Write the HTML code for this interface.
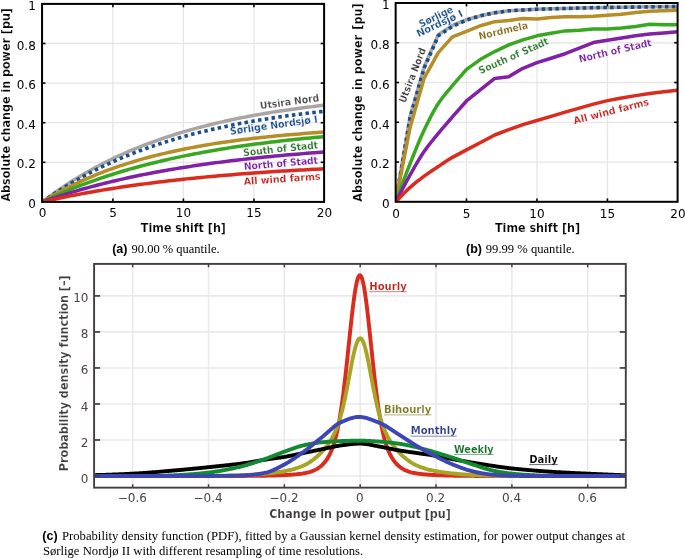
<!DOCTYPE html>
<html lang="en"><head><meta charset="utf-8"><title>Figure</title>
<style>
html,body{margin:0;padding:0;background:#fff;}
body{width:685px;height:558px;overflow:hidden;}
svg{display:block;}
text{white-space:pre;}
</style></head>
<body>
<svg width="685" height="558" viewBox="0 0 685 558">
<defs>
<clipPath id="ca"><rect x="42.05" y="3.9" width="282.05" height="198"/></clipPath>
<clipPath id="cb"><rect x="395.65" y="3.0" width="281.95" height="198.8"/></clipPath>
<clipPath id="cc"><rect x="94.1" y="263.9" width="531.7" height="223.75"/></clipPath>
</defs>
<rect width="685" height="558" fill="#fff"/>
<g><line x1="112.91" y1="3.9" x2="112.91" y2="201.9" stroke="#e7e5e6" stroke-width="1.3"/><line x1="183.42" y1="3.9" x2="183.42" y2="201.9" stroke="#e7e5e6" stroke-width="1.3"/><line x1="253.94" y1="3.9" x2="253.94" y2="201.9" stroke="#e7e5e6" stroke-width="1.3"/><line x1="42.05" y1="162.3" x2="324.1" y2="162.3" stroke="#e7e5e6" stroke-width="1.3"/><line x1="42.05" y1="122.7" x2="324.1" y2="122.7" stroke="#e7e5e6" stroke-width="1.3"/><line x1="42.05" y1="83.1" x2="324.1" y2="83.1" stroke="#e7e5e6" stroke-width="1.3"/><line x1="42.05" y1="43.5" x2="324.1" y2="43.5" stroke="#e7e5e6" stroke-width="1.3"/></g>
<path clip-path="url(#ca)" d="M42.05,201.9 L45.93,199.2 L49.45,196.57 L52.98,194 L56.5,191.49 L60.03,189.05 L63.55,186.66 L67.08,184.32 L70.6,182.04 L74.13,179.82 L77.66,177.65 L81.18,175.53 L84.71,173.47 L88.23,171.45 L91.76,169.48 L95.28,167.55 L98.81,165.68 L102.34,163.84 L105.86,162.05 L109.39,160.31 L112.91,158.6 L116.44,156.94 L119.96,155.31 L123.49,153.73 L127.02,152.18 L130.54,150.67 L134.07,149.19 L137.59,147.75 L141.12,146.35 L144.64,144.98 L148.17,143.64 L151.69,142.33 L155.22,141.05 L158.75,139.81 L162.27,138.59 L165.8,137.4 L169.32,136.25 L172.85,135.11 L176.37,134.01 L179.9,132.93 L183.42,131.88 L186.95,130.85 L190.48,129.85 L194,128.87 L197.53,127.92 L201.05,126.98 L204.58,126.07 L208.1,125.18 L211.63,124.32 L215.16,123.47 L218.68,122.64 L222.21,121.84 L225.73,121.05 L229.26,120.28 L232.78,119.53 L236.31,118.8 L239.84,118.08 L243.36,117.38 L246.89,116.7 L250.41,116.04 L253.94,115.39 L257.46,114.75 L260.99,114.14 L264.51,113.53 L268.04,112.94 L271.57,112.37 L275.09,111.8 L278.62,111.26 L282.14,110.72 L285.67,110.2 L289.19,109.69 L292.72,109.19 L296.25,108.7 L299.77,108.23 L303.3,107.77 L306.82,107.31 L310.35,106.87 L313.87,106.44 L317.4,106.02 L320.92,105.61 L324.1,105.21" fill="none" stroke="#a9a5a5" stroke-width="3.5" stroke-linejoin="round"/>
<path clip-path="url(#ca)" d="M42.05,201.9 L45.93,199.41 L49.45,196.98 L52.98,194.6 L56.5,192.28 L60.03,190.02 L63.55,187.8 L67.08,185.64 L70.6,183.53 L74.13,181.47 L77.66,179.46 L81.18,177.49 L84.71,175.57 L88.23,173.69 L91.76,171.86 L95.28,170.07 L98.81,168.32 L102.34,166.62 L105.86,164.95 L109.39,163.32 L112.91,161.73 L116.44,160.18 L119.96,158.66 L123.49,157.18 L127.02,155.73 L130.54,154.32 L134.07,152.93 L137.59,151.59 L141.12,150.27 L144.64,148.98 L148.17,147.73 L151.69,146.5 L155.22,145.3 L158.75,144.13 L162.27,142.99 L165.8,141.87 L169.32,140.78 L172.85,139.71 L176.37,138.67 L179.9,137.66 L183.42,136.66 L186.95,135.7 L190.48,134.75 L194,133.82 L197.53,132.92 L201.05,132.04 L204.58,131.18 L208.1,130.34 L211.63,129.51 L215.16,128.71 L218.68,127.93 L222.21,127.16 L225.73,126.41 L229.26,125.68 L232.78,124.97 L236.31,124.27 L239.84,123.59 L243.36,122.93 L246.89,122.28 L250.41,121.65 L253.94,121.03 L257.46,120.42 L260.99,119.83 L264.51,119.25 L268.04,118.69 L271.57,118.14 L275.09,117.6 L278.62,117.08 L282.14,116.56 L285.67,116.06 L289.19,115.57 L292.72,115.1 L296.25,114.63 L299.77,114.17 L303.3,113.73 L306.82,113.29 L310.35,112.87 L313.87,112.46 L317.4,112.05 L320.92,111.65 L324.1,111.27" fill="none" stroke="#1b4f8c" stroke-width="3.6" stroke-linejoin="round" stroke-dasharray="3.5 3.35"/>
<path clip-path="url(#ca)" d="M42.05,201.9 L45.93,199.74 L49.45,197.64 L52.98,195.6 L56.5,193.62 L60.03,191.69 L63.55,189.81 L67.08,187.99 L70.6,186.21 L74.13,184.49 L77.66,182.81 L81.18,181.18 L84.71,179.59 L88.23,178.05 L91.76,176.55 L95.28,175.09 L98.81,173.67 L102.34,172.29 L105.86,170.95 L109.39,169.65 L112.91,168.38 L116.44,167.15 L119.96,165.95 L123.49,164.79 L127.02,163.65 L130.54,162.55 L134.07,161.48 L137.59,160.44 L141.12,159.43 L144.64,158.44 L148.17,157.48 L151.69,156.55 L155.22,155.65 L158.75,154.77 L162.27,153.91 L165.8,153.08 L169.32,152.27 L172.85,151.48 L176.37,150.72 L179.9,149.97 L183.42,149.25 L186.95,148.54 L190.48,147.86 L194,147.19 L197.53,146.55 L201.05,145.92 L204.58,145.31 L208.1,144.71 L211.63,144.13 L215.16,143.57 L218.68,143.03 L222.21,142.49 L225.73,141.98 L229.26,141.47 L232.78,140.99 L236.31,140.51 L239.84,140.05 L243.36,139.6 L246.89,139.16 L250.41,138.74 L253.94,138.32 L257.46,137.92 L260.99,137.53 L264.51,137.15 L268.04,136.78 L271.57,136.42 L275.09,136.07 L278.62,135.73 L282.14,135.4 L285.67,135.08 L289.19,134.77 L292.72,134.47 L296.25,134.17 L299.77,133.89 L303.3,133.61 L306.82,133.33 L310.35,133.07 L313.87,132.81 L317.4,132.57 L320.92,132.32 L324.1,132.09" fill="none" stroke="#b58e28" stroke-width="3.5" stroke-linejoin="round"/>
<path clip-path="url(#ca)" d="M42.05,201.9 L45.93,200.22 L49.45,198.57 L52.98,196.96 L56.5,195.38 L60.03,193.83 L63.55,192.32 L67.08,190.84 L70.6,189.39 L74.13,187.97 L77.66,186.58 L81.18,185.22 L84.71,183.89 L88.23,182.59 L91.76,181.31 L95.28,180.07 L98.81,178.84 L102.34,177.65 L105.86,176.48 L109.39,175.33 L112.91,174.21 L116.44,173.11 L119.96,172.03 L123.49,170.98 L127.02,169.95 L130.54,168.94 L134.07,167.95 L137.59,166.99 L141.12,166.04 L144.64,165.11 L148.17,164.21 L151.69,163.32 L155.22,162.45 L158.75,161.6 L162.27,160.77 L165.8,159.95 L169.32,159.15 L172.85,158.37 L176.37,157.61 L179.9,156.86 L183.42,156.13 L186.95,155.41 L190.48,154.71 L194,154.02 L197.53,153.35 L201.05,152.69 L204.58,152.04 L208.1,151.41 L211.63,150.79 L215.16,150.19 L218.68,149.6 L222.21,149.02 L225.73,148.45 L229.26,147.89 L232.78,147.35 L236.31,146.82 L239.84,146.3 L243.36,145.79 L246.89,145.29 L250.41,144.8 L253.94,144.32 L257.46,143.85 L260.99,143.39 L264.51,142.94 L268.04,142.5 L271.57,142.07 L275.09,141.65 L278.62,141.24 L282.14,140.84 L285.67,140.44 L289.19,140.06 L292.72,139.68 L296.25,139.31 L299.77,138.94 L303.3,138.59 L306.82,138.24 L310.35,137.9 L313.87,137.57 L317.4,137.24 L320.92,136.92 L324.1,136.61" fill="none" stroke="#38a820" stroke-width="3.5" stroke-linejoin="round"/>
<path clip-path="url(#ca)" d="M42.05,201.9 L45.93,200.66 L49.45,199.45 L52.98,198.26 L56.5,197.09 L60.03,195.95 L63.55,194.83 L67.08,193.73 L70.6,192.65 L74.13,191.59 L77.66,190.56 L81.18,189.55 L84.71,188.55 L88.23,187.58 L91.76,186.62 L95.28,185.69 L98.81,184.77 L102.34,183.87 L105.86,182.99 L109.39,182.13 L112.91,181.28 L116.44,180.45 L119.96,179.63 L123.49,178.84 L127.02,178.06 L130.54,177.29 L134.07,176.54 L137.59,175.8 L141.12,175.08 L144.64,174.37 L148.17,173.68 L151.69,173 L155.22,172.34 L158.75,171.68 L162.27,171.04 L165.8,170.42 L169.32,169.8 L172.85,169.2 L176.37,168.61 L179.9,168.03 L183.42,167.46 L186.95,166.91 L190.48,166.36 L194,165.83 L197.53,165.31 L201.05,164.79 L204.58,164.29 L208.1,163.8 L211.63,163.31 L215.16,162.84 L218.68,162.38 L222.21,161.92 L225.73,161.47 L229.26,161.04 L232.78,160.61 L236.31,160.19 L239.84,159.78 L243.36,159.37 L246.89,158.98 L250.41,158.59 L253.94,158.21 L257.46,157.84 L260.99,157.47 L264.51,157.11 L268.04,156.76 L271.57,156.42 L275.09,156.08 L278.62,155.75 L282.14,155.43 L285.67,155.11 L289.19,154.8 L292.72,154.5 L296.25,154.2 L299.77,153.9 L303.3,153.62 L306.82,153.34 L310.35,153.06 L313.87,152.79 L317.4,152.53 L320.92,152.27 L324.1,152.01" fill="none" stroke="#8021a6" stroke-width="3.5" stroke-linejoin="round"/>
<path clip-path="url(#ca)" d="M42.05,201.9 L45.93,201.1 L49.45,200.31 L52.98,199.53 L56.5,198.78 L60.03,198.03 L63.55,197.3 L67.08,196.58 L70.6,195.88 L74.13,195.19 L77.66,194.52 L81.18,193.85 L84.71,193.2 L88.23,192.56 L91.76,191.94 L95.28,191.32 L98.81,190.72 L102.34,190.13 L105.86,189.55 L109.39,188.98 L112.91,188.43 L116.44,187.88 L119.96,187.34 L123.49,186.82 L127.02,186.3 L130.54,185.79 L134.07,185.3 L137.59,184.81 L141.12,184.33 L144.64,183.86 L148.17,183.4 L151.69,182.95 L155.22,182.51 L158.75,182.07 L162.27,181.65 L165.8,181.23 L169.32,180.82 L172.85,180.42 L176.37,180.02 L179.9,179.64 L183.42,179.26 L186.95,178.88 L190.48,178.52 L194,178.16 L197.53,177.81 L201.05,177.46 L204.58,177.13 L208.1,176.79 L211.63,176.47 L215.16,176.15 L218.68,175.84 L222.21,175.53 L225.73,175.23 L229.26,174.93 L232.78,174.64 L236.31,174.36 L239.84,174.08 L243.36,173.81 L246.89,173.54 L250.41,173.28 L253.94,173.02 L257.46,172.76 L260.99,172.51 L264.51,172.27 L268.04,172.03 L271.57,171.8 L275.09,171.57 L278.62,171.34 L282.14,171.12 L285.67,170.9 L289.19,170.69 L292.72,170.48 L296.25,170.28 L299.77,170.07 L303.3,169.88 L306.82,169.68 L310.35,169.49 L313.87,169.31 L317.4,169.13 L320.92,168.95 L324.1,168.77" fill="none" stroke="#dc2a1c" stroke-width="3.5" stroke-linejoin="round"/>
<g><rect x="42.05" y="3.9" width="282.05" height="198" fill="none" stroke="#000" stroke-width="2.0"/><line x1="112.91" y1="201.9" x2="112.91" y2="198.5" stroke="#000" stroke-width="1.6"/><line x1="112.91" y1="3.9" x2="112.91" y2="7.3" stroke="#000" stroke-width="1.6"/><line x1="183.42" y1="201.9" x2="183.42" y2="198.5" stroke="#000" stroke-width="1.6"/><line x1="183.42" y1="3.9" x2="183.42" y2="7.3" stroke="#000" stroke-width="1.6"/><line x1="253.94" y1="201.9" x2="253.94" y2="198.5" stroke="#000" stroke-width="1.6"/><line x1="253.94" y1="3.9" x2="253.94" y2="7.3" stroke="#000" stroke-width="1.6"/><line x1="42.05" y1="162.3" x2="45.45" y2="162.3" stroke="#000" stroke-width="1.6"/><line x1="324.1" y1="162.3" x2="320.7" y2="162.3" stroke="#000" stroke-width="1.6"/><line x1="42.05" y1="122.7" x2="45.45" y2="122.7" stroke="#000" stroke-width="1.6"/><line x1="324.1" y1="122.7" x2="320.7" y2="122.7" stroke="#000" stroke-width="1.6"/><line x1="42.05" y1="83.1" x2="45.45" y2="83.1" stroke="#000" stroke-width="1.6"/><line x1="324.1" y1="83.1" x2="320.7" y2="83.1" stroke="#000" stroke-width="1.6"/><line x1="42.05" y1="43.5" x2="45.45" y2="43.5" stroke="#000" stroke-width="1.6"/><line x1="324.1" y1="43.5" x2="320.7" y2="43.5" stroke="#000" stroke-width="1.6"/></g>
<g><line x1="466.49" y1="3" x2="466.49" y2="201.8" stroke="#e7e5e6" stroke-width="1.3"/><line x1="536.98" y1="3" x2="536.98" y2="201.8" stroke="#e7e5e6" stroke-width="1.3"/><line x1="607.46" y1="3" x2="607.46" y2="201.8" stroke="#e7e5e6" stroke-width="1.3"/><line x1="395.65" y1="162.04" x2="677.6" y2="162.04" stroke="#e7e5e6" stroke-width="1.3"/><line x1="395.65" y1="122.28" x2="677.6" y2="122.28" stroke="#e7e5e6" stroke-width="1.3"/><line x1="395.65" y1="82.52" x2="677.6" y2="82.52" stroke="#e7e5e6" stroke-width="1.3"/><line x1="395.65" y1="42.76" x2="677.6" y2="42.76" stroke="#e7e5e6" stroke-width="1.3"/></g>
<path clip-path="url(#cb)" d="M395.65,201.8 L410.1,116.59 L424.19,66.78 L438.29,34.63 L452.39,25.44 L466.49,19.7 L480.59,15.76 L494.68,12.78 L508.78,10.81 L522.88,10.02 L536.98,9.22 L551.07,8.84 L565.17,8.45 L579.27,8.05 L593.37,7.65 L607.46,7.45 L621.56,7.25 L635.66,7.06 L649.75,6.86 L663.85,6.66 L677.6,6.66" fill="none" stroke="#a9a5a5" stroke-width="3.5" stroke-linejoin="round"/>
<path clip-path="url(#cb)" d="M395.65,201.8 L410.1,117.39 L424.19,67.97 L438.29,35.82 L452.39,26.44 L466.49,20.1 L480.59,15.76 L494.68,12.78 L508.78,10.81 L522.88,10.02 L536.98,9.22 L551.07,8.84 L565.17,8.45 L579.27,8.05 L593.37,7.65 L607.46,7.45 L621.56,7.25 L635.66,7.06 L649.75,6.86 L663.85,6.66 L677.6,6.66" fill="none" stroke="#1b4f8c" stroke-width="3.6" stroke-linejoin="round" stroke-dasharray="3.5 3.35"/>
<path clip-path="url(#cb)" d="M395.65,201.8 L410.1,127.47 L424.19,78.05 L438.29,52.62 L452.39,36.92 L466.49,31.37 L480.59,25.74 L494.68,21.69 L508.78,20.59 L522.88,18.53 L536.98,19.02 L551.07,17.53 L565.17,16.74 L579.27,16.74 L593.37,16.16 L607.46,15.17 L621.56,14.17 L635.66,12.4 L649.75,11.21 L663.85,10.81 L677.6,10.3" fill="none" stroke="#b58e28" stroke-width="3.5" stroke-linejoin="round"/>
<path clip-path="url(#cb)" d="M395.65,201.8 L397.76,196.78 L399.52,191.83 L401.29,186.95 L403.05,182.14 L404.81,177.4 L406.57,172.74 L408.34,168.16 L410.1,163.65 L411.86,159.19 L413.62,154.76 L415.38,150.38 L417.15,146.08 L418.91,141.87 L420.67,137.78 L422.43,133.83 L424.19,130.03 L425.96,126.35 L427.72,122.72 L429.48,119.18 L431.24,115.74 L433.01,112.43 L434.77,109.28 L436.53,106.3 L438.29,103.53 L440.05,100.96 L441.82,98.56 L443.58,96.28 L445.34,94.1 L447.1,91.99 L448.87,89.92 L450.63,87.84 L452.39,85.74 L466.49,69.42 L480.59,59.34 L494.68,51.55 L508.78,44.83 L522.88,39.88 L536.98,35.82 L551.07,33.16 L565.17,30.89 L579.27,30.2 L593.37,29.1 L607.46,29.1 L621.56,28.01 L635.66,26.44 L649.75,24.25 L663.85,24.65 L677.6,24.65" fill="none" stroke="#38a820" stroke-width="3.5" stroke-linejoin="round"/>
<path clip-path="url(#cb)" d="M395.65,201.8 L397.76,198.25 L399.52,194.75 L401.29,191.31 L403.05,187.91 L404.81,184.58 L406.57,181.29 L408.34,178.07 L410.1,174.9 L411.86,171.77 L413.62,168.65 L415.38,165.58 L417.15,162.55 L418.91,159.61 L420.67,156.75 L422.43,154 L424.19,151.38 L425.96,148.89 L427.72,146.51 L429.48,144.21 L431.24,141.99 L433.01,139.81 L434.77,137.66 L436.53,135.53 L438.29,133.39 L440.05,131.27 L441.82,129.17 L443.58,127.11 L445.34,125.06 L447.1,123.03 L448.87,121.01 L450.63,118.99 L452.39,116.97 L466.49,100.97 L480.59,89.7 L494.68,78.42 L508.78,76.66 L522.88,68.35 L536.98,62.7 L551.07,58.27 L565.17,53.71 L579.27,48.19 L593.37,42.54 L607.46,40.28 L621.56,38.09 L635.66,35.82 L649.75,34.05 L663.85,32.96 L677.6,31.77" fill="none" stroke="#8021a6" stroke-width="3.5" stroke-linejoin="round"/>
<path clip-path="url(#cb)" d="M395.65,201.8 L397.76,199.82 L399.52,197.89 L401.29,196.01 L403.05,194.17 L404.81,192.39 L406.57,190.66 L408.34,189 L410.1,187.39 L411.86,185.84 L413.62,184.34 L415.38,182.9 L417.15,181.49 L418.91,180.12 L420.67,178.78 L422.43,177.46 L424.19,176.15 L425.96,174.88 L427.72,173.63 L429.48,172.41 L431.24,171.21 L433.01,170.03 L434.77,168.85 L436.53,167.68 L438.29,166.51 L440.05,165.33 L441.82,164.15 L443.58,162.97 L445.34,161.79 L447.1,160.64 L448.87,159.51 L450.63,158.42 L452.39,157.37 L466.49,149.91 L480.59,142.46 L494.68,135 L508.78,129.54 L522.88,124.57 L536.98,120.49 L551.07,116.32 L565.17,112.14 L579.27,108.07 L593.37,104.09 L607.46,100.61 L621.56,98.03 L635.66,95.64 L649.75,93.55 L663.85,91.76 L677.6,90.17" fill="none" stroke="#dc2a1c" stroke-width="3.5" stroke-linejoin="round"/>
<g><rect x="395.65" y="3" width="281.95" height="198.8" fill="none" stroke="#000" stroke-width="2.0"/><line x1="466.49" y1="201.8" x2="466.49" y2="198.4" stroke="#000" stroke-width="1.6"/><line x1="466.49" y1="3" x2="466.49" y2="6.4" stroke="#000" stroke-width="1.6"/><line x1="536.98" y1="201.8" x2="536.98" y2="198.4" stroke="#000" stroke-width="1.6"/><line x1="536.98" y1="3" x2="536.98" y2="6.4" stroke="#000" stroke-width="1.6"/><line x1="607.46" y1="201.8" x2="607.46" y2="198.4" stroke="#000" stroke-width="1.6"/><line x1="607.46" y1="3" x2="607.46" y2="6.4" stroke="#000" stroke-width="1.6"/><line x1="395.65" y1="162.04" x2="399.05" y2="162.04" stroke="#000" stroke-width="1.6"/><line x1="677.6" y1="162.04" x2="674.2" y2="162.04" stroke="#000" stroke-width="1.6"/><line x1="395.65" y1="122.28" x2="399.05" y2="122.28" stroke="#000" stroke-width="1.6"/><line x1="677.6" y1="122.28" x2="674.2" y2="122.28" stroke="#000" stroke-width="1.6"/><line x1="395.65" y1="82.52" x2="399.05" y2="82.52" stroke="#000" stroke-width="1.6"/><line x1="677.6" y1="82.52" x2="674.2" y2="82.52" stroke="#000" stroke-width="1.6"/><line x1="395.65" y1="42.76" x2="399.05" y2="42.76" stroke="#000" stroke-width="1.6"/><line x1="677.6" y1="42.76" x2="674.2" y2="42.76" stroke="#000" stroke-width="1.6"/></g>
<g><line x1="132.68" y1="263.9" x2="132.68" y2="487.65" stroke="#ebe9ea" stroke-width="1.6"/><line x1="208.52" y1="263.9" x2="208.52" y2="487.65" stroke="#ebe9ea" stroke-width="1.6"/><line x1="284.36" y1="263.9" x2="284.36" y2="487.65" stroke="#ebe9ea" stroke-width="1.6"/><line x1="360.2" y1="263.9" x2="360.2" y2="487.65" stroke="#ebe9ea" stroke-width="1.6"/><line x1="436.04" y1="263.9" x2="436.04" y2="487.65" stroke="#ebe9ea" stroke-width="1.6"/><line x1="511.88" y1="263.9" x2="511.88" y2="487.65" stroke="#ebe9ea" stroke-width="1.6"/><line x1="587.72" y1="263.9" x2="587.72" y2="487.65" stroke="#ebe9ea" stroke-width="1.6"/><line x1="94.1" y1="476" x2="625.8" y2="476" stroke="#ebe9ea" stroke-width="1.6"/><line x1="94.1" y1="439.98" x2="625.8" y2="439.98" stroke="#ebe9ea" stroke-width="1.6"/><line x1="94.1" y1="403.96" x2="625.8" y2="403.96" stroke="#ebe9ea" stroke-width="1.6"/><line x1="94.1" y1="367.94" x2="625.8" y2="367.94" stroke="#ebe9ea" stroke-width="1.6"/><line x1="94.1" y1="331.92" x2="625.8" y2="331.92" stroke="#ebe9ea" stroke-width="1.6"/><line x1="94.1" y1="295.9" x2="625.8" y2="295.9" stroke="#ebe9ea" stroke-width="1.6"/></g>
<path clip-path="url(#cc)" d="M94.76,476 L95.71,476 L96.66,476 L97.6,476 L98.55,476 L99.5,476 L100.45,476 L101.4,476 L102.34,476 L103.29,476 L104.24,476 L105.19,476 L106.14,476 L107.08,476 L108.03,476 L108.98,476 L109.93,476 L110.88,476 L111.82,476 L112.77,476 L113.72,476 L114.67,476 L115.62,476 L116.56,476 L117.51,476 L118.46,476 L119.41,476 L120.36,476 L121.3,476 L122.25,476 L123.2,476 L124.15,476 L125.1,476 L126.04,476 L126.99,476 L127.94,476 L128.89,476 L129.84,476 L130.78,476 L131.73,476 L132.68,476 L133.63,476 L134.58,476 L135.52,476 L136.47,476 L137.42,476 L138.37,476 L139.32,476 L140.26,476 L141.21,476 L142.16,476 L143.11,476 L144.06,476 L145,476 L145.95,476 L146.9,476 L147.85,476 L148.8,476 L149.74,476 L150.69,476 L151.64,476 L152.59,476 L153.54,476 L154.48,476 L155.43,476 L156.38,476 L157.33,476 L158.28,476 L159.22,476 L160.17,476 L161.12,476 L162.07,476 L163.02,476 L163.96,476 L164.91,476 L165.86,476 L166.81,476 L167.76,476 L168.7,476 L169.65,476 L170.6,476 L171.55,476 L172.5,476 L173.44,476 L174.39,476 L175.34,476 L176.29,476 L177.24,476 L178.18,476 L179.13,476 L180.08,476 L181.03,476 L181.98,476 L182.92,476 L183.87,476 L184.82,476 L185.77,476 L186.72,476 L187.66,476 L188.61,476 L189.56,476 L190.51,476 L191.46,476 L192.4,476 L193.35,476 L194.3,476 L195.25,476 L196.2,476 L197.14,476 L198.09,476 L199.04,476 L199.99,476 L200.94,476 L201.88,476 L202.83,476 L203.78,476 L204.73,476 L205.68,476 L206.62,476 L207.57,476 L208.52,476 L209.47,476 L210.42,476 L211.36,476 L212.31,476 L213.26,476 L214.21,475.99 L215.16,475.99 L216.1,475.99 L217.05,475.99 L218,475.99 L218.95,475.99 L219.9,475.99 L220.84,475.99 L221.79,475.99 L222.74,475.99 L223.69,475.99 L224.64,475.99 L225.58,475.99 L226.53,475.98 L227.48,475.98 L228.43,475.98 L229.38,475.98 L230.32,475.98 L231.27,475.98 L232.22,475.97 L233.17,475.97 L234.12,475.97 L235.06,475.97 L236.01,475.96 L236.96,475.96 L237.91,475.96 L238.86,475.95 L239.8,475.95 L240.75,475.95 L241.7,475.94 L242.65,475.94 L243.6,475.93 L244.54,475.93 L245.49,475.92 L246.44,475.92 L247.39,475.91 L248.34,475.91 L249.28,475.9 L250.23,475.89 L251.18,475.88 L252.13,475.88 L253.08,475.87 L254.02,475.86 L254.97,475.85 L255.92,475.84 L256.87,475.83 L257.82,475.81 L258.76,475.8 L259.71,475.79 L260.66,475.77 L261.61,475.76 L262.56,475.74 L263.5,475.73 L264.45,475.71 L265.4,475.69 L266.35,475.68 L267.3,475.66 L268.24,475.63 L269.19,475.61 L270.14,475.59 L271.09,475.57 L272.04,475.54 L272.98,475.52 L273.93,475.49 L274.88,475.46 L275.83,475.43 L276.78,475.4 L277.72,475.36 L278.67,475.33 L279.62,475.29 L280.57,475.26 L281.52,475.22 L282.46,475.18 L283.41,475.14 L284.36,475.09 L285.31,475.04 L286.26,475 L287.2,474.94 L288.15,474.89 L289.1,474.83 L290.05,474.78 L291,474.71 L291.94,474.65 L292.89,474.58 L293.84,474.5 L294.79,474.43 L295.74,474.34 L296.68,474.26 L297.63,474.16 L298.58,474.06 L299.53,473.95 L300.48,473.83 L301.42,473.71 L302.37,473.57 L303.32,473.42 L304.27,473.26 L305.22,473.08 L306.16,472.89 L307.11,472.68 L308.06,472.45 L309.01,472.2 L309.96,471.92 L310.9,471.62 L311.85,471.29 L312.8,470.93 L313.75,470.54 L314.7,470.1 L315.64,469.63 L316.59,469.12 L317.54,468.55 L318.49,467.94 L319.44,467.27 L320.38,466.53 L321.33,465.73 L322.28,464.86 L323.23,463.91 L324.18,462.86 L325.12,461.72 L326.07,460.47 L327.02,459.1 L327.97,457.59 L328.92,455.93 L329.86,454.1 L330.81,452.06 L331.76,449.81 L332.71,447.32 L333.66,444.54 L334.6,441.46 L335.55,438.03 L336.5,434.23 L337.45,430.03 L338.4,425.38 L339.34,420.27 L340.29,414.68 L341.24,408.59 L342.19,401.99 L343.14,394.9 L344.08,387.33 L345.03,379.32 L345.98,370.93 L346.93,362.23 L347.88,353.3 L348.82,344.25 L349.77,335.2 L350.72,326.28 L351.67,317.64 L352.62,309.42 L353.56,301.78 L354.51,294.86 L355.46,288.81 L356.41,283.75 L357.36,279.79 L358.3,277.02 L359.25,275.51 L360.2,275.27 L361.15,276.33 L362.1,278.66 L363.04,282.2 L363.99,286.87 L364.94,292.58 L365.89,299.2 L366.84,306.6 L367.78,314.62 L368.73,323.13 L369.68,331.97 L370.63,340.99 L371.58,350.05 L372.52,359.04 L373.47,367.83 L374.42,376.35 L375.37,384.5 L376.32,392.23 L377.26,399.49 L378.21,406.27 L379.16,412.54 L380.11,418.32 L381.06,423.6 L382,428.41 L382.95,432.77 L383.9,436.71 L384.85,440.26 L385.8,443.47 L386.74,446.35 L387.69,448.94 L388.64,451.28 L389.59,453.39 L390.54,455.29 L391.48,457.01 L392.43,458.58 L393.38,460 L394.33,461.29 L395.28,462.47 L396.22,463.54 L397.17,464.53 L398.12,465.43 L399.07,466.25 L400.02,467.01 L400.96,467.7 L401.91,468.34 L402.86,468.92 L403.81,469.45 L404.76,469.94 L405.7,470.38 L406.65,470.79 L407.6,471.16 L408.55,471.51 L409.5,471.82 L410.44,472.1 L411.39,472.36 L412.34,472.6 L413.29,472.81 L414.24,473.01 L415.18,473.19 L416.13,473.36 L417.08,473.52 L418.03,473.66 L418.98,473.79 L419.92,473.91 L420.87,474.02 L421.82,474.12 L422.77,474.22 L423.72,474.31 L424.66,474.4 L425.61,474.48 L426.56,474.55 L427.51,474.62 L428.46,474.69 L429.4,474.75 L430.35,474.81 L431.3,474.87 L432.25,474.93 L433.2,474.98 L434.14,475.03 L435.09,475.07 L436.04,475.12 L436.99,475.16 L437.94,475.2 L438.88,475.24 L439.83,475.28 L440.78,475.32 L441.73,475.35 L442.68,475.39 L443.62,475.42 L444.57,475.45 L445.52,475.48 L446.47,475.51 L447.42,475.53 L448.36,475.56 L449.31,475.58 L450.26,475.6 L451.21,475.63 L452.16,475.65 L453.1,475.67 L454.05,475.69 L455,475.71 L455.95,475.72 L456.9,475.74 L457.84,475.75 L458.79,475.77 L459.74,475.78 L460.69,475.8 L461.64,475.81 L462.58,475.82 L463.53,475.83 L464.48,475.84 L465.43,475.85 L466.38,475.86 L467.32,475.87 L468.27,475.88 L469.22,475.89 L470.17,475.9 L471.12,475.9 L472.06,475.91 L473.01,475.92 L473.96,475.92 L474.91,475.93 L475.86,475.93 L476.8,475.94 L477.75,475.94 L478.7,475.95 L479.65,475.95 L480.6,475.95 L481.54,475.96 L482.49,475.96 L483.44,475.96 L484.39,475.97 L485.34,475.97 L486.28,475.97 L487.23,475.97 L488.18,475.98 L489.13,475.98 L490.08,475.98 L491.02,475.98 L491.97,475.98 L492.92,475.98 L493.87,475.98 L494.82,475.99 L495.76,475.99 L496.71,475.99 L497.66,475.99 L498.61,475.99 L499.56,475.99 L500.5,475.99 L501.45,475.99 L502.4,475.99 L503.35,475.99 L504.3,475.99 L505.24,475.99 L506.19,476 L507.14,476 L508.09,476 L509.04,476 L509.98,476 L510.93,476 L511.88,476 L512.83,476 L513.78,476 L514.72,476 L515.67,476 L516.62,476 L517.57,476 L518.52,476 L519.46,476 L520.41,476 L521.36,476 L522.31,476 L523.26,476 L524.2,476 L525.15,476 L526.1,476 L527.05,476 L528,476 L528.94,476 L529.89,476 L530.84,476 L531.79,476 L532.74,476 L533.68,476 L534.63,476 L535.58,476 L536.53,476 L537.48,476 L538.42,476 L539.37,476 L540.32,476 L541.27,476 L542.22,476 L543.16,476 L544.11,476 L545.06,476 L546.01,476 L546.96,476 L547.9,476 L548.85,476 L549.8,476 L550.75,476 L551.7,476 L552.64,476 L553.59,476 L554.54,476 L555.49,476 L556.44,476 L557.38,476 L558.33,476 L559.28,476 L560.23,476 L561.18,476 L562.12,476 L563.07,476 L564.02,476 L564.97,476 L565.92,476 L566.86,476 L567.81,476 L568.76,476 L569.71,476 L570.66,476 L571.6,476 L572.55,476 L573.5,476 L574.45,476 L575.4,476 L576.34,476 L577.29,476 L578.24,476 L579.19,476 L580.14,476 L581.08,476 L582.03,476 L582.98,476 L583.93,476 L584.88,476 L585.82,476 L586.77,476 L587.72,476 L588.67,476 L589.62,476 L590.56,476 L591.51,476 L592.46,476 L593.41,476 L594.36,476 L595.3,476 L596.25,476 L597.2,476 L598.15,476 L599.1,476 L600.04,476 L600.99,476 L601.94,476 L602.89,476 L603.84,476 L604.78,476 L605.73,476 L606.68,476 L607.63,476 L608.58,476 L609.52,476 L610.47,476 L611.42,476 L612.37,476 L613.32,476 L614.26,476 L615.21,476 L616.16,476 L617.11,476 L618.06,476 L619,476 L619.95,476 L620.9,476 L621.85,476 L622.8,476 L623.74,476 L624.69,476 L625.64,476" fill="none" stroke="#dc2a1c" stroke-width="3.9" stroke-linejoin="round"/>
<path clip-path="url(#cc)" d="M94.76,476 L95.71,476 L96.66,476 L97.6,476 L98.55,476 L99.5,476 L100.45,476 L101.4,476 L102.34,476 L103.29,476 L104.24,476 L105.19,476 L106.14,476 L107.08,476 L108.03,476 L108.98,476 L109.93,476 L110.88,476 L111.82,476 L112.77,476 L113.72,476 L114.67,476 L115.62,476 L116.56,476 L117.51,476 L118.46,476 L119.41,476 L120.36,476 L121.3,476 L122.25,476 L123.2,476 L124.15,476 L125.1,476 L126.04,476 L126.99,476 L127.94,476 L128.89,476 L129.84,476 L130.78,476 L131.73,476 L132.68,476 L133.63,476 L134.58,476 L135.52,476 L136.47,476 L137.42,476 L138.37,476 L139.32,476 L140.26,476 L141.21,476 L142.16,476 L143.11,476 L144.06,476 L145,476 L145.95,476 L146.9,476 L147.85,476 L148.8,476 L149.74,476 L150.69,476 L151.64,476 L152.59,476 L153.54,476 L154.48,476 L155.43,476 L156.38,476 L157.33,476 L158.28,476 L159.22,476 L160.17,476 L161.12,476 L162.07,476 L163.02,476 L163.96,476 L164.91,476 L165.86,476 L166.81,475.99 L167.76,475.99 L168.7,475.99 L169.65,475.99 L170.6,475.99 L171.55,475.99 L172.5,475.99 L173.44,475.99 L174.39,475.99 L175.34,475.99 L176.29,475.99 L177.24,475.99 L178.18,475.99 L179.13,475.99 L180.08,475.98 L181.03,475.98 L181.98,475.98 L182.92,475.98 L183.87,475.98 L184.82,475.98 L185.77,475.98 L186.72,475.97 L187.66,475.97 L188.61,475.97 L189.56,475.97 L190.51,475.97 L191.46,475.96 L192.4,475.96 L193.35,475.96 L194.3,475.96 L195.25,475.95 L196.2,475.95 L197.14,475.95 L198.09,475.94 L199.04,475.94 L199.99,475.93 L200.94,475.93 L201.88,475.93 L202.83,475.92 L203.78,475.92 L204.73,475.91 L205.68,475.9 L206.62,475.9 L207.57,475.89 L208.52,475.89 L209.47,475.88 L210.42,475.87 L211.36,475.86 L212.31,475.85 L213.26,475.84 L214.21,475.84 L215.16,475.83 L216.1,475.81 L217.05,475.8 L218,475.79 L218.95,475.78 L219.9,475.77 L220.84,475.75 L221.79,475.74 L222.74,475.72 L223.69,475.71 L224.64,475.69 L225.58,475.67 L226.53,475.66 L227.48,475.64 L228.43,475.62 L229.38,475.6 L230.32,475.58 L231.27,475.55 L232.22,475.53 L233.17,475.5 L234.12,475.48 L235.06,475.45 L236.01,475.42 L236.96,475.39 L237.91,475.36 L238.86,475.33 L239.8,475.3 L240.75,475.26 L241.7,475.22 L242.65,475.19 L243.6,475.15 L244.54,475.11 L245.49,475.06 L246.44,475.02 L247.39,474.97 L248.34,474.93 L249.28,474.88 L250.23,474.82 L251.18,474.77 L252.13,474.72 L253.08,474.66 L254.02,474.6 L254.97,474.54 L255.92,474.48 L256.87,474.41 L257.82,474.34 L258.76,474.27 L259.71,474.2 L260.66,474.12 L261.61,474.05 L262.56,473.97 L263.5,473.88 L264.45,473.8 L265.4,473.71 L266.35,473.62 L267.3,473.53 L268.24,473.43 L269.19,473.33 L270.14,473.22 L271.09,473.12 L272.04,473.01 L272.98,472.9 L273.93,472.78 L274.88,472.66 L275.83,472.53 L276.78,472.4 L277.72,472.27 L278.67,472.13 L279.62,471.99 L280.57,471.84 L281.52,471.69 L282.46,471.53 L283.41,471.36 L284.36,471.19 L285.31,471.01 L286.26,470.83 L287.2,470.64 L288.15,470.43 L289.1,470.23 L290.05,470.01 L291,469.78 L291.94,469.54 L292.89,469.29 L293.84,469.03 L294.79,468.76 L295.74,468.47 L296.68,468.17 L297.63,467.86 L298.58,467.53 L299.53,467.18 L300.48,466.82 L301.42,466.44 L302.37,466.03 L303.32,465.61 L304.27,465.17 L305.22,464.7 L306.16,464.21 L307.11,463.7 L308.06,463.16 L309.01,462.59 L309.96,462 L310.9,461.38 L311.85,460.73 L312.8,460.04 L313.75,459.33 L314.7,458.59 L315.64,457.81 L316.59,457 L317.54,456.15 L318.49,455.28 L319.44,454.36 L320.38,453.41 L321.33,452.42 L322.28,451.4 L323.23,450.33 L324.18,449.23 L325.12,448.08 L326.07,446.88 L327.02,445.63 L327.97,444.33 L328.92,442.97 L329.86,441.53 L330.81,440.02 L331.76,438.42 L332.71,436.71 L333.66,434.89 L334.6,432.94 L335.55,430.84 L336.5,428.57 L337.45,426.11 L338.4,423.45 L339.34,420.57 L340.29,417.45 L341.24,414.07 L342.19,410.44 L343.14,406.55 L344.08,402.41 L345.03,398.02 L345.98,393.41 L346.93,388.62 L347.88,383.68 L348.82,378.65 L349.77,373.59 L350.72,368.57 L351.67,363.67 L352.62,358.97 L353.56,354.57 L354.51,350.53 L355.46,346.96 L356.41,343.92 L357.36,341.48 L358.3,339.69 L359.25,338.6 L360.2,338.24 L361.15,338.6 L362.1,339.69 L363.04,341.48 L363.99,343.92 L364.94,346.96 L365.89,350.53 L366.84,354.57 L367.78,358.97 L368.73,363.67 L369.68,368.57 L370.63,373.59 L371.58,378.65 L372.52,383.68 L373.47,388.62 L374.42,393.41 L375.37,398.02 L376.32,402.41 L377.26,406.55 L378.21,410.44 L379.16,414.07 L380.11,417.45 L381.06,420.57 L382,423.45 L382.95,426.11 L383.9,428.57 L384.85,430.84 L385.8,432.94 L386.74,434.89 L387.69,436.71 L388.64,438.42 L389.59,440.02 L390.54,441.53 L391.48,442.97 L392.43,444.33 L393.38,445.63 L394.33,446.88 L395.28,448.08 L396.22,449.23 L397.17,450.33 L398.12,451.4 L399.07,452.42 L400.02,453.41 L400.96,454.36 L401.91,455.28 L402.86,456.15 L403.81,457 L404.76,457.81 L405.7,458.59 L406.65,459.33 L407.6,460.04 L408.55,460.73 L409.5,461.38 L410.44,462 L411.39,462.59 L412.34,463.16 L413.29,463.7 L414.24,464.21 L415.18,464.7 L416.13,465.17 L417.08,465.61 L418.03,466.03 L418.98,466.44 L419.92,466.82 L420.87,467.18 L421.82,467.53 L422.77,467.86 L423.72,468.17 L424.66,468.47 L425.61,468.76 L426.56,469.03 L427.51,469.29 L428.46,469.54 L429.4,469.78 L430.35,470.01 L431.3,470.23 L432.25,470.43 L433.2,470.64 L434.14,470.83 L435.09,471.01 L436.04,471.19 L436.99,471.36 L437.94,471.53 L438.88,471.69 L439.83,471.84 L440.78,471.99 L441.73,472.13 L442.68,472.27 L443.62,472.4 L444.57,472.53 L445.52,472.66 L446.47,472.78 L447.42,472.9 L448.36,473.01 L449.31,473.12 L450.26,473.22 L451.21,473.33 L452.16,473.43 L453.1,473.53 L454.05,473.62 L455,473.71 L455.95,473.8 L456.9,473.88 L457.84,473.97 L458.79,474.05 L459.74,474.12 L460.69,474.2 L461.64,474.27 L462.58,474.34 L463.53,474.41 L464.48,474.48 L465.43,474.54 L466.38,474.6 L467.32,474.66 L468.27,474.72 L469.22,474.77 L470.17,474.82 L471.12,474.88 L472.06,474.93 L473.01,474.97 L473.96,475.02 L474.91,475.06 L475.86,475.11 L476.8,475.15 L477.75,475.19 L478.7,475.22 L479.65,475.26 L480.6,475.3 L481.54,475.33 L482.49,475.36 L483.44,475.39 L484.39,475.42 L485.34,475.45 L486.28,475.48 L487.23,475.5 L488.18,475.53 L489.13,475.55 L490.08,475.58 L491.02,475.6 L491.97,475.62 L492.92,475.64 L493.87,475.66 L494.82,475.67 L495.76,475.69 L496.71,475.71 L497.66,475.72 L498.61,475.74 L499.56,475.75 L500.5,475.77 L501.45,475.78 L502.4,475.79 L503.35,475.8 L504.3,475.81 L505.24,475.83 L506.19,475.84 L507.14,475.84 L508.09,475.85 L509.04,475.86 L509.98,475.87 L510.93,475.88 L511.88,475.89 L512.83,475.89 L513.78,475.9 L514.72,475.9 L515.67,475.91 L516.62,475.92 L517.57,475.92 L518.52,475.93 L519.46,475.93 L520.41,475.93 L521.36,475.94 L522.31,475.94 L523.26,475.95 L524.2,475.95 L525.15,475.95 L526.1,475.96 L527.05,475.96 L528,475.96 L528.94,475.96 L529.89,475.97 L530.84,475.97 L531.79,475.97 L532.74,475.97 L533.68,475.97 L534.63,475.98 L535.58,475.98 L536.53,475.98 L537.48,475.98 L538.42,475.98 L539.37,475.98 L540.32,475.98 L541.27,475.99 L542.22,475.99 L543.16,475.99 L544.11,475.99 L545.06,475.99 L546.01,475.99 L546.96,475.99 L547.9,475.99 L548.85,475.99 L549.8,475.99 L550.75,475.99 L551.7,475.99 L552.64,475.99 L553.59,475.99 L554.54,476 L555.49,476 L556.44,476 L557.38,476 L558.33,476 L559.28,476 L560.23,476 L561.18,476 L562.12,476 L563.07,476 L564.02,476 L564.97,476 L565.92,476 L566.86,476 L567.81,476 L568.76,476 L569.71,476 L570.66,476 L571.6,476 L572.55,476 L573.5,476 L574.45,476 L575.4,476 L576.34,476 L577.29,476 L578.24,476 L579.19,476 L580.14,476 L581.08,476 L582.03,476 L582.98,476 L583.93,476 L584.88,476 L585.82,476 L586.77,476 L587.72,476 L588.67,476 L589.62,476 L590.56,476 L591.51,476 L592.46,476 L593.41,476 L594.36,476 L595.3,476 L596.25,476 L597.2,476 L598.15,476 L599.1,476 L600.04,476 L600.99,476 L601.94,476 L602.89,476 L603.84,476 L604.78,476 L605.73,476 L606.68,476 L607.63,476 L608.58,476 L609.52,476 L610.47,476 L611.42,476 L612.37,476 L613.32,476 L614.26,476 L615.21,476 L616.16,476 L617.11,476 L618.06,476 L619,476 L619.95,476 L620.9,476 L621.85,476 L622.8,476 L623.74,476 L624.69,476 L625.64,476" fill="none" stroke="#a8a526" stroke-width="3.9" stroke-linejoin="round"/>
<path clip-path="url(#cc)" d="M94.76,475.1 L95.71,475.08 L96.66,475.06 L97.6,475.04 L98.55,475.02 L99.5,474.99 L100.45,474.97 L101.4,474.95 L102.34,474.92 L103.29,474.89 L104.24,474.86 L105.19,474.83 L106.14,474.8 L107.08,474.77 L108.03,474.74 L108.98,474.71 L109.93,474.67 L110.88,474.64 L111.82,474.6 L112.77,474.57 L113.72,474.53 L114.67,474.49 L115.62,474.45 L116.56,474.41 L117.51,474.37 L118.46,474.33 L119.41,474.29 L120.36,474.25 L121.3,474.21 L122.25,474.16 L123.2,474.12 L124.15,474.08 L125.1,474.03 L126.04,473.99 L126.99,473.94 L127.94,473.89 L128.89,473.85 L129.84,473.8 L130.78,473.75 L131.73,473.71 L132.68,473.66 L133.63,473.61 L134.58,473.56 L135.52,473.51 L136.47,473.45 L137.42,473.39 L138.37,473.34 L139.32,473.28 L140.26,473.22 L141.21,473.15 L142.16,473.09 L143.11,473.02 L144.06,472.96 L145,472.89 L145.95,472.82 L146.9,472.75 L147.85,472.68 L148.8,472.6 L149.74,472.53 L150.69,472.45 L151.64,472.38 L152.59,472.3 L153.54,472.22 L154.48,472.15 L155.43,472.07 L156.38,471.99 L157.33,471.91 L158.28,471.83 L159.22,471.75 L160.17,471.67 L161.12,471.59 L162.07,471.51 L163.02,471.43 L163.96,471.34 L164.91,471.26 L165.86,471.18 L166.81,471.1 L167.76,471.02 L168.7,470.94 L169.65,470.86 L170.6,470.78 L171.55,470.7 L172.5,470.62 L173.44,470.53 L174.39,470.45 L175.34,470.37 L176.29,470.29 L177.24,470.2 L178.18,470.12 L179.13,470.03 L180.08,469.95 L181.03,469.86 L181.98,469.78 L182.92,469.69 L183.87,469.6 L184.82,469.51 L185.77,469.43 L186.72,469.34 L187.66,469.25 L188.61,469.16 L189.56,469.07 L190.51,468.98 L191.46,468.89 L192.4,468.79 L193.35,468.7 L194.3,468.61 L195.25,468.52 L196.2,468.42 L197.14,468.33 L198.09,468.23 L199.04,468.14 L199.99,468.05 L200.94,467.95 L201.88,467.85 L202.83,467.76 L203.78,467.66 L204.73,467.57 L205.68,467.47 L206.62,467.37 L207.57,467.27 L208.52,467.18 L209.47,467.08 L210.42,466.98 L211.36,466.88 L212.31,466.78 L213.26,466.69 L214.21,466.59 L215.16,466.49 L216.1,466.39 L217.05,466.29 L218,466.2 L218.95,466.1 L219.9,466 L220.84,465.9 L221.79,465.8 L222.74,465.7 L223.69,465.6 L224.64,465.5 L225.58,465.39 L226.53,465.29 L227.48,465.19 L228.43,465.08 L229.38,464.98 L230.32,464.87 L231.27,464.76 L232.22,464.65 L233.17,464.54 L234.12,464.43 L235.06,464.32 L236.01,464.2 L236.96,464.09 L237.91,463.97 L238.86,463.86 L239.8,463.74 L240.75,463.62 L241.7,463.49 L242.65,463.37 L243.6,463.24 L244.54,463.11 L245.49,462.98 L246.44,462.85 L247.39,462.72 L248.34,462.57 L249.28,462.42 L250.23,462.27 L251.18,462.11 L252.13,461.95 L253.08,461.78 L254.02,461.61 L254.97,461.44 L255.92,461.27 L256.87,461.1 L257.82,460.92 L258.76,460.75 L259.71,460.58 L260.66,460.41 L261.61,460.24 L262.56,460.08 L263.5,459.92 L264.45,459.76 L265.4,459.61 L266.35,459.47 L267.3,459.33 L268.24,459.19 L269.19,459.05 L270.14,458.92 L271.09,458.79 L272.04,458.67 L272.98,458.54 L273.93,458.42 L274.88,458.29 L275.83,458.16 L276.78,458.04 L277.72,457.91 L278.67,457.78 L279.62,457.64 L280.57,457.5 L281.52,457.36 L282.46,457.22 L283.41,457.07 L284.36,456.91 L285.31,456.75 L286.26,456.58 L287.2,456.4 L288.15,456.22 L289.1,456.04 L290.05,455.85 L291,455.66 L291.94,455.46 L292.89,455.26 L293.84,455.06 L294.79,454.86 L295.74,454.65 L296.68,454.45 L297.63,454.24 L298.58,454.04 L299.53,453.83 L300.48,453.63 L301.42,453.43 L302.37,453.23 L303.32,453.04 L304.27,452.84 L305.22,452.65 L306.16,452.46 L307.11,452.26 L308.06,452.07 L309.01,451.87 L309.96,451.68 L310.9,451.48 L311.85,451.29 L312.8,451.1 L313.75,450.9 L314.7,450.71 L315.64,450.51 L316.59,450.32 L317.54,450.13 L318.49,449.93 L319.44,449.74 L320.38,449.55 L321.33,449.36 L322.28,449.17 L323.23,448.97 L324.18,448.77 L325.12,448.57 L326.07,448.36 L327.02,448.15 L327.97,447.94 L328.92,447.73 L329.86,447.52 L330.81,447.31 L331.76,447.1 L332.71,446.9 L333.66,446.7 L334.6,446.5 L335.55,446.32 L336.5,446.14 L337.45,445.97 L338.4,445.8 L339.34,445.65 L340.29,445.51 L341.24,445.38 L342.19,445.26 L343.14,445.13 L344.08,445.01 L345.03,444.88 L345.98,444.76 L346.93,444.64 L347.88,444.51 L348.82,444.4 L349.77,444.28 L350.72,444.18 L351.67,444.08 L352.62,443.98 L353.56,443.9 L354.51,443.82 L355.46,443.75 L356.41,443.69 L357.36,443.64 L358.3,443.61 L359.25,443.59 L360.2,443.58 L361.15,443.6 L362.1,443.63 L363.04,443.69 L363.99,443.78 L364.94,443.88 L365.89,444 L366.84,444.13 L367.78,444.28 L368.73,444.44 L369.68,444.61 L370.63,444.79 L371.58,444.98 L372.52,445.17 L373.47,445.36 L374.42,445.55 L375.37,445.75 L376.32,445.93 L377.26,446.12 L378.21,446.3 L379.16,446.46 L380.11,446.63 L381.06,446.81 L382,446.99 L382.95,447.17 L383.9,447.36 L384.85,447.56 L385.8,447.76 L386.74,447.96 L387.69,448.16 L388.64,448.36 L389.59,448.56 L390.54,448.77 L391.48,448.97 L392.43,449.16 L393.38,449.36 L394.33,449.55 L395.28,449.73 L396.22,449.91 L397.17,450.08 L398.12,450.25 L399.07,450.4 L400.02,450.56 L400.96,450.71 L401.91,450.86 L402.86,451 L403.81,451.14 L404.76,451.28 L405.7,451.42 L406.65,451.56 L407.6,451.69 L408.55,451.83 L409.5,451.96 L410.44,452.09 L411.39,452.23 L412.34,452.36 L413.29,452.49 L414.24,452.63 L415.18,452.76 L416.13,452.9 L417.08,453.04 L418.03,453.18 L418.98,453.31 L419.92,453.45 L420.87,453.58 L421.82,453.72 L422.77,453.85 L423.72,453.98 L424.66,454.11 L425.61,454.25 L426.56,454.38 L427.51,454.52 L428.46,454.65 L429.4,454.79 L430.35,454.93 L431.3,455.07 L432.25,455.22 L433.2,455.36 L434.14,455.52 L435.09,455.67 L436.04,455.83 L436.99,455.99 L437.94,456.16 L438.88,456.34 L439.83,456.52 L440.78,456.71 L441.73,456.9 L442.68,457.09 L443.62,457.29 L444.57,457.49 L445.52,457.68 L446.47,457.89 L447.42,458.09 L448.36,458.28 L449.31,458.48 L450.26,458.68 L451.21,458.87 L452.16,459.06 L453.1,459.25 L454.05,459.43 L455,459.61 L455.95,459.78 L456.9,459.96 L457.84,460.13 L458.79,460.3 L459.74,460.47 L460.69,460.63 L461.64,460.8 L462.58,460.96 L463.53,461.13 L464.48,461.29 L465.43,461.45 L466.38,461.61 L467.32,461.77 L468.27,461.93 L469.22,462.08 L470.17,462.24 L471.12,462.39 L472.06,462.55 L473.01,462.7 L473.96,462.85 L474.91,463 L475.86,463.16 L476.8,463.31 L477.75,463.46 L478.7,463.62 L479.65,463.77 L480.6,463.92 L481.54,464.08 L482.49,464.23 L483.44,464.38 L484.39,464.54 L485.34,464.69 L486.28,464.84 L487.23,464.99 L488.18,465.14 L489.13,465.3 L490.08,465.44 L491.02,465.59 L491.97,465.74 L492.92,465.89 L493.87,466.03 L494.82,466.18 L495.76,466.32 L496.71,466.46 L497.66,466.6 L498.61,466.74 L499.56,466.87 L500.5,467.01 L501.45,467.14 L502.4,467.27 L503.35,467.4 L504.3,467.52 L505.24,467.65 L506.19,467.77 L507.14,467.89 L508.09,468 L509.04,468.11 L509.98,468.22 L510.93,468.33 L511.88,468.44 L512.83,468.54 L513.78,468.64 L514.72,468.74 L515.67,468.84 L516.62,468.93 L517.57,469.03 L518.52,469.13 L519.46,469.22 L520.41,469.31 L521.36,469.4 L522.31,469.49 L523.26,469.58 L524.2,469.67 L525.15,469.76 L526.1,469.85 L527.05,469.93 L528,470.02 L528.94,470.1 L529.89,470.18 L530.84,470.26 L531.79,470.34 L532.74,470.42 L533.68,470.5 L534.63,470.58 L535.58,470.65 L536.53,470.73 L537.48,470.8 L538.42,470.87 L539.37,470.95 L540.32,471.02 L541.27,471.09 L542.22,471.16 L543.16,471.23 L544.11,471.29 L545.06,471.36 L546.01,471.42 L546.96,471.49 L547.9,471.55 L548.85,471.62 L549.8,471.68 L550.75,471.74 L551.7,471.8 L552.64,471.86 L553.59,471.92 L554.54,471.97 L555.49,472.03 L556.44,472.09 L557.38,472.14 L558.33,472.2 L559.28,472.25 L560.23,472.3 L561.18,472.35 L562.12,472.41 L563.07,472.46 L564.02,472.51 L564.97,472.56 L565.92,472.61 L566.86,472.66 L567.81,472.7 L568.76,472.75 L569.71,472.8 L570.66,472.85 L571.6,472.89 L572.55,472.94 L573.5,472.99 L574.45,473.03 L575.4,473.08 L576.34,473.12 L577.29,473.17 L578.24,473.21 L579.19,473.26 L580.14,473.3 L581.08,473.35 L582.03,473.39 L582.98,473.44 L583.93,473.48 L584.88,473.53 L585.82,473.57 L586.77,473.61 L587.72,473.66 L588.67,473.7 L589.62,473.75 L590.56,473.79 L591.51,473.84 L592.46,473.88 L593.41,473.92 L594.36,473.97 L595.3,474.01 L596.25,474.05 L597.2,474.1 L598.15,474.14 L599.1,474.18 L600.04,474.22 L600.99,474.26 L601.94,474.31 L602.89,474.35 L603.84,474.39 L604.78,474.43 L605.73,474.47 L606.68,474.51 L607.63,474.55 L608.58,474.59 L609.52,474.63 L610.47,474.67 L611.42,474.71 L612.37,474.75 L613.32,474.79 L614.26,474.83 L615.21,474.87 L616.16,474.91 L617.11,474.95 L618.06,474.98 L619,475.02 L619.95,475.06 L620.9,475.1 L621.85,475.13 L622.8,475.17 L623.74,475.21 L624.69,475.24 L625.64,475.28" fill="none" stroke="#000" stroke-width="3.9" stroke-linejoin="round"/>
<path clip-path="url(#cc)" d="M94.76,476 L95.71,476 L96.66,476 L97.6,476 L98.55,476 L99.5,476 L100.45,476 L101.4,476 L102.34,476 L103.29,476 L104.24,476 L105.19,476 L106.14,476 L107.08,476 L108.03,476 L108.98,476 L109.93,476 L110.88,476 L111.82,476 L112.77,476 L113.72,476 L114.67,476 L115.62,476 L116.56,476 L117.51,476 L118.46,476 L119.41,476 L120.36,476 L121.3,476 L122.25,476 L123.2,476 L124.15,476 L125.1,476 L126.04,476 L126.99,476 L127.94,476 L128.89,476 L129.84,476 L130.78,476 L131.73,476 L132.68,476 L133.63,476 L134.58,476 L135.52,476 L136.47,476 L137.42,476 L138.37,476 L139.32,476 L140.26,476 L141.21,476 L142.16,476 L143.11,476 L144.06,476 L145,476 L145.95,476 L146.9,476 L147.85,476 L148.8,476 L149.74,476 L150.69,476 L151.64,476 L152.59,476 L153.54,475.99 L154.48,475.98 L155.43,475.97 L156.38,475.95 L157.33,475.93 L158.28,475.91 L159.22,475.88 L160.17,475.85 L161.12,475.82 L162.07,475.79 L163.02,475.75 L163.96,475.72 L164.91,475.68 L165.86,475.65 L166.81,475.61 L167.76,475.57 L168.7,475.53 L169.65,475.5 L170.6,475.46 L171.55,475.42 L172.5,475.38 L173.44,475.34 L174.39,475.3 L175.34,475.25 L176.29,475.21 L177.24,475.16 L178.18,475.11 L179.13,475.05 L180.08,475 L181.03,474.94 L181.98,474.88 L182.92,474.83 L183.87,474.77 L184.82,474.7 L185.77,474.64 L186.72,474.58 L187.66,474.51 L188.61,474.45 L189.56,474.38 L190.51,474.31 L191.46,474.24 L192.4,474.17 L193.35,474.09 L194.3,474.01 L195.25,473.93 L196.2,473.85 L197.14,473.77 L198.09,473.68 L199.04,473.59 L199.99,473.5 L200.94,473.41 L201.88,473.31 L202.83,473.22 L203.78,473.12 L204.73,473.01 L205.68,472.91 L206.62,472.8 L207.57,472.69 L208.52,472.58 L209.47,472.46 L210.42,472.34 L211.36,472.22 L212.31,472.09 L213.26,471.95 L214.21,471.81 L215.16,471.67 L216.1,471.52 L217.05,471.37 L218,471.22 L218.95,471.06 L219.9,470.9 L220.84,470.74 L221.79,470.57 L222.74,470.4 L223.69,470.23 L224.64,470.05 L225.58,469.88 L226.53,469.7 L227.48,469.52 L228.43,469.33 L229.38,469.14 L230.32,468.95 L231.27,468.75 L232.22,468.54 L233.17,468.33 L234.12,468.12 L235.06,467.9 L236.01,467.68 L236.96,467.46 L237.91,467.23 L238.86,467 L239.8,466.76 L240.75,466.52 L241.7,466.28 L242.65,466.03 L243.6,465.78 L244.54,465.53 L245.49,465.27 L246.44,465.01 L247.39,464.75 L248.34,464.48 L249.28,464.21 L250.23,463.92 L251.18,463.64 L252.13,463.35 L253.08,463.05 L254.02,462.75 L254.97,462.44 L255.92,462.13 L256.87,461.82 L257.82,461.5 L258.76,461.18 L259.71,460.86 L260.66,460.53 L261.61,460.21 L262.56,459.88 L263.5,459.55 L264.45,459.22 L265.4,458.89 L266.35,458.56 L267.3,458.21 L268.24,457.86 L269.19,457.51 L270.14,457.15 L271.09,456.78 L272.04,456.42 L272.98,456.05 L273.93,455.67 L274.88,455.3 L275.83,454.93 L276.78,454.56 L277.72,454.18 L278.67,453.81 L279.62,453.45 L280.57,453.08 L281.52,452.73 L282.46,452.37 L283.41,452.03 L284.36,451.69 L285.31,451.35 L286.26,451 L287.2,450.66 L288.15,450.3 L289.1,449.95 L290.05,449.6 L291,449.25 L291.94,448.9 L292.89,448.56 L293.84,448.22 L294.79,447.89 L295.74,447.56 L296.68,447.25 L297.63,446.94 L298.58,446.64 L299.53,446.36 L300.48,446.09 L301.42,445.84 L302.37,445.6 L303.32,445.38 L304.27,445.17 L305.22,444.97 L306.16,444.77 L307.11,444.57 L308.06,444.38 L309.01,444.19 L309.96,444.01 L310.9,443.83 L311.85,443.66 L312.8,443.5 L313.75,443.34 L314.7,443.18 L315.64,443.04 L316.59,442.9 L317.54,442.77 L318.49,442.64 L319.44,442.53 L320.38,442.42 L321.33,442.32 L322.28,442.23 L323.23,442.15 L324.18,442.07 L325.12,441.99 L326.07,441.91 L327.02,441.83 L327.97,441.76 L328.92,441.69 L329.86,441.63 L330.81,441.56 L331.76,441.5 L332.71,441.44 L333.66,441.39 L334.6,441.34 L335.55,441.29 L336.5,441.24 L337.45,441.2 L338.4,441.16 L339.34,441.12 L340.29,441.09 L341.24,441.06 L342.19,441.03 L343.14,441.01 L344.08,440.98 L345.03,440.95 L345.98,440.93 L346.93,440.9 L347.88,440.88 L348.82,440.85 L349.77,440.83 L350.72,440.81 L351.67,440.79 L352.62,440.77 L353.56,440.76 L354.51,440.74 L355.46,440.73 L356.41,440.72 L357.36,440.71 L358.3,440.71 L359.25,440.7 L360.2,440.7 L361.15,440.7 L362.1,440.71 L363.04,440.73 L363.99,440.75 L364.94,440.78 L365.89,440.82 L366.84,440.86 L367.78,440.9 L368.73,440.95 L369.68,441 L370.63,441.05 L371.58,441.11 L372.52,441.16 L373.47,441.22 L374.42,441.29 L375.37,441.35 L376.32,441.41 L377.26,441.48 L378.21,441.54 L379.16,441.6 L380.11,441.66 L381.06,441.73 L382,441.81 L382.95,441.88 L383.9,441.96 L384.85,442.05 L385.8,442.14 L386.74,442.23 L387.69,442.32 L388.64,442.42 L389.59,442.52 L390.54,442.63 L391.48,442.74 L392.43,442.85 L393.38,442.96 L394.33,443.08 L395.28,443.2 L396.22,443.33 L397.17,443.45 L398.12,443.58 L399.07,443.72 L400.02,443.86 L400.96,444.01 L401.91,444.17 L402.86,444.33 L403.81,444.5 L404.76,444.68 L405.7,444.87 L406.65,445.06 L407.6,445.25 L408.55,445.45 L409.5,445.65 L410.44,445.86 L411.39,446.07 L412.34,446.28 L413.29,446.49 L414.24,446.71 L415.18,446.93 L416.13,447.14 L417.08,447.36 L418.03,447.59 L418.98,447.82 L419.92,448.05 L420.87,448.29 L421.82,448.54 L422.77,448.79 L423.72,449.04 L424.66,449.3 L425.61,449.56 L426.56,449.83 L427.51,450.1 L428.46,450.37 L429.4,450.64 L430.35,450.92 L431.3,451.19 L432.25,451.47 L433.2,451.75 L434.14,452.03 L435.09,452.31 L436.04,452.59 L436.99,452.87 L437.94,453.15 L438.88,453.43 L439.83,453.72 L440.78,454.01 L441.73,454.3 L442.68,454.6 L443.62,454.89 L444.57,455.19 L445.52,455.49 L446.47,455.79 L447.42,456.09 L448.36,456.39 L449.31,456.7 L450.26,457 L451.21,457.31 L452.16,457.61 L453.1,457.92 L454.05,458.22 L455,458.53 L455.95,458.84 L456.9,459.15 L457.84,459.46 L458.79,459.78 L459.74,460.09 L460.69,460.41 L461.64,460.73 L462.58,461.05 L463.53,461.37 L464.48,461.69 L465.43,462.01 L466.38,462.34 L467.32,462.65 L468.27,462.97 L469.22,463.29 L470.17,463.6 L471.12,463.92 L472.06,464.22 L473.01,464.53 L473.96,464.83 L474.91,465.14 L475.86,465.45 L476.8,465.76 L477.75,466.08 L478.7,466.39 L479.65,466.71 L480.6,467.03 L481.54,467.35 L482.49,467.66 L483.44,467.97 L484.39,468.27 L485.34,468.57 L486.28,468.86 L487.23,469.14 L488.18,469.42 L489.13,469.68 L490.08,469.93 L491.02,470.17 L491.97,470.39 L492.92,470.6 L493.87,470.79 L494.82,470.99 L495.76,471.18 L496.71,471.36 L497.66,471.55 L498.61,471.72 L499.56,471.89 L500.5,472.06 L501.45,472.23 L502.4,472.38 L503.35,472.54 L504.3,472.68 L505.24,472.82 L506.19,472.96 L507.14,473.09 L508.09,473.22 L509.04,473.34 L509.98,473.45 L510.93,473.56 L511.88,473.66 L512.83,473.76 L513.78,473.85 L514.72,473.94 L515.67,474.03 L516.62,474.11 L517.57,474.2 L518.52,474.28 L519.46,474.36 L520.41,474.43 L521.36,474.5 L522.31,474.57 L523.26,474.64 L524.2,474.71 L525.15,474.77 L526.1,474.83 L527.05,474.89 L528,474.95 L528.94,475 L529.89,475.05 L530.84,475.1 L531.79,475.15 L532.74,475.19 L533.68,475.24 L534.63,475.29 L535.58,475.33 L536.53,475.38 L537.48,475.42 L538.42,475.46 L539.37,475.5 L540.32,475.54 L541.27,475.58 L542.22,475.62 L543.16,475.65 L544.11,475.68 L545.06,475.71 L546.01,475.74 L546.96,475.76 L547.9,475.79 L548.85,475.8 L549.8,475.82 L550.75,475.83 L551.7,475.85 L552.64,475.86 L553.59,475.88 L554.54,475.89 L555.49,475.9 L556.44,475.91 L557.38,475.92 L558.33,475.94 L559.28,475.95 L560.23,475.96 L561.18,475.96 L562.12,475.97 L563.07,475.98 L564.02,475.99 L564.97,475.99 L565.92,475.99 L566.86,476 L567.81,476 L568.76,476 L569.71,476 L570.66,476 L571.6,476 L572.55,476 L573.5,476 L574.45,476 L575.4,476 L576.34,476 L577.29,476 L578.24,476 L579.19,476 L580.14,476 L581.08,476 L582.03,476 L582.98,476 L583.93,476 L584.88,476 L585.82,476 L586.77,476 L587.72,476 L588.67,476 L589.62,476 L590.56,476 L591.51,476 L592.46,476 L593.41,476 L594.36,476 L595.3,476 L596.25,476 L597.2,476 L598.15,476 L599.1,476 L600.04,476 L600.99,476 L601.94,476 L602.89,476 L603.84,476 L604.78,476 L605.73,476 L606.68,476 L607.63,476 L608.58,476 L609.52,476 L610.47,476 L611.42,476 L612.37,476 L613.32,476 L614.26,476 L615.21,476 L616.16,476 L617.11,476 L618.06,476 L619,476 L619.95,476 L620.9,476 L621.85,476 L622.8,476 L623.74,476 L624.69,476 L625.64,476" fill="none" stroke="#128a32" stroke-width="3.9" stroke-linejoin="round"/>
<path clip-path="url(#cc)" d="M94.76,476 L95.71,476 L96.66,476 L97.6,476 L98.55,476 L99.5,476 L100.45,476 L101.4,476 L102.34,476 L103.29,476 L104.24,476 L105.19,476 L106.14,476 L107.08,476 L108.03,476 L108.98,476 L109.93,476 L110.88,476 L111.82,476 L112.77,476 L113.72,476 L114.67,476 L115.62,476 L116.56,476 L117.51,476 L118.46,476 L119.41,476 L120.36,476 L121.3,476 L122.25,476 L123.2,476 L124.15,476 L125.1,476 L126.04,476 L126.99,476 L127.94,476 L128.89,476 L129.84,476 L130.78,476 L131.73,476 L132.68,476 L133.63,476 L134.58,476 L135.52,476 L136.47,476 L137.42,476 L138.37,476 L139.32,476 L140.26,476 L141.21,476 L142.16,476 L143.11,476 L144.06,476 L145,476 L145.95,476 L146.9,476 L147.85,476 L148.8,476 L149.74,476 L150.69,476 L151.64,476 L152.59,476 L153.54,476 L154.48,476 L155.43,476 L156.38,476 L157.33,476 L158.28,476 L159.22,476 L160.17,476 L161.12,476 L162.07,476 L163.02,476 L163.96,476 L164.91,476 L165.86,476 L166.81,476 L167.76,476 L168.7,476 L169.65,476 L170.6,476 L171.55,476 L172.5,476 L173.44,476 L174.39,476 L175.34,476 L176.29,476 L177.24,476 L178.18,476 L179.13,476 L180.08,476 L181.03,476 L181.98,476 L182.92,476 L183.87,476 L184.82,476 L185.77,476 L186.72,476 L187.66,476 L188.61,476 L189.56,476 L190.51,476 L191.46,476 L192.4,476 L193.35,476 L194.3,476 L195.25,475.99 L196.2,475.99 L197.14,475.99 L198.09,475.99 L199.04,475.98 L199.99,475.98 L200.94,475.98 L201.88,475.97 L202.83,475.97 L203.78,475.97 L204.73,475.96 L205.68,475.96 L206.62,475.95 L207.57,475.95 L208.52,475.95 L209.47,475.94 L210.42,475.94 L211.36,475.93 L212.31,475.93 L213.26,475.93 L214.21,475.92 L215.16,475.92 L216.1,475.91 L217.05,475.9 L218,475.9 L218.95,475.89 L219.9,475.89 L220.84,475.88 L221.79,475.87 L222.74,475.86 L223.69,475.86 L224.64,475.85 L225.58,475.84 L226.53,475.83 L227.48,475.82 L228.43,475.81 L229.38,475.8 L230.32,475.78 L231.27,475.77 L232.22,475.75 L233.17,475.73 L234.12,475.71 L235.06,475.69 L236.01,475.66 L236.96,475.64 L237.91,475.61 L238.86,475.58 L239.8,475.55 L240.75,475.51 L241.7,475.48 L242.65,475.44 L243.6,475.4 L244.54,475.36 L245.49,475.32 L246.44,475.28 L247.39,475.23 L248.34,475.17 L249.28,475.1 L250.23,475.03 L251.18,474.94 L252.13,474.85 L253.08,474.75 L254.02,474.64 L254.97,474.52 L255.92,474.39 L256.87,474.26 L257.82,474.12 L258.76,473.97 L259.71,473.82 L260.66,473.65 L261.61,473.49 L262.56,473.31 L263.5,473.13 L264.45,472.95 L265.4,472.76 L266.35,472.55 L267.3,472.3 L268.24,472.03 L269.19,471.72 L270.14,471.39 L271.09,471.03 L272.04,470.64 L272.98,470.24 L273.93,469.82 L274.88,469.38 L275.83,468.92 L276.78,468.45 L277.72,467.97 L278.67,467.48 L279.62,466.98 L280.57,466.48 L281.52,465.98 L282.46,465.48 L283.41,464.97 L284.36,464.47 L285.31,463.97 L286.26,463.44 L287.2,462.9 L288.15,462.35 L289.1,461.77 L290.05,461.19 L291,460.59 L291.94,459.98 L292.89,459.36 L293.84,458.72 L294.79,458.08 L295.74,457.43 L296.68,456.77 L297.63,456.11 L298.58,455.44 L299.53,454.77 L300.48,454.09 L301.42,453.41 L302.37,452.73 L303.32,452.05 L304.27,451.36 L305.22,450.65 L306.16,449.93 L307.11,449.21 L308.06,448.46 L309.01,447.71 L309.96,446.96 L310.9,446.19 L311.85,445.42 L312.8,444.65 L313.75,443.87 L314.7,443.09 L315.64,442.3 L316.59,441.52 L317.54,440.74 L318.49,439.97 L319.44,439.2 L320.38,438.43 L321.33,437.67 L322.28,436.92 L323.23,436.16 L324.18,435.37 L325.12,434.56 L326.07,433.73 L327.02,432.89 L327.97,432.04 L328.92,431.2 L329.86,430.35 L330.81,429.51 L331.76,428.68 L332.71,427.88 L333.66,427.09 L334.6,426.33 L335.55,425.6 L336.5,424.9 L337.45,424.25 L338.4,423.64 L339.34,423.09 L340.29,422.59 L341.24,422.15 L342.19,421.74 L343.14,421.33 L344.08,420.92 L345.03,420.52 L345.98,420.12 L346.93,419.74 L347.88,419.36 L348.82,419.01 L349.77,418.67 L350.72,418.35 L351.67,418.06 L352.62,417.79 L353.56,417.56 L354.51,417.35 L355.46,417.19 L356.41,417.06 L357.36,416.97 L358.3,416.93 L359.25,416.93 L360.2,416.98 L361.15,417.06 L362.1,417.17 L363.04,417.32 L363.99,417.5 L364.94,417.7 L365.89,417.93 L366.84,418.19 L367.78,418.47 L368.73,418.76 L369.68,419.08 L370.63,419.41 L371.58,419.75 L372.52,420.1 L373.47,420.46 L374.42,420.83 L375.37,421.2 L376.32,421.58 L377.26,421.95 L378.21,422.32 L379.16,422.69 L380.11,423.07 L381.06,423.49 L382,423.95 L382.95,424.43 L383.9,424.94 L384.85,425.48 L385.8,426.03 L386.74,426.61 L387.69,427.21 L388.64,427.81 L389.59,428.43 L390.54,429.06 L391.48,429.69 L392.43,430.33 L393.38,430.96 L394.33,431.59 L395.28,432.22 L396.22,432.84 L397.17,433.44 L398.12,434.04 L399.07,434.63 L400.02,435.22 L400.96,435.82 L401.91,436.43 L402.86,437.04 L403.81,437.66 L404.76,438.27 L405.7,438.89 L406.65,439.51 L407.6,440.13 L408.55,440.75 L409.5,441.37 L410.44,441.98 L411.39,442.59 L412.34,443.19 L413.29,443.79 L414.24,444.38 L415.18,444.96 L416.13,445.54 L417.08,446.1 L418.03,446.66 L418.98,447.22 L419.92,447.77 L420.87,448.32 L421.82,448.86 L422.77,449.4 L423.72,449.94 L424.66,450.47 L425.61,451 L426.56,451.53 L427.51,452.05 L428.46,452.57 L429.4,453.08 L430.35,453.59 L431.3,454.1 L432.25,454.6 L433.2,455.09 L434.14,455.58 L435.09,456.07 L436.04,456.55 L436.99,457.03 L437.94,457.51 L438.88,457.98 L439.83,458.46 L440.78,458.93 L441.73,459.4 L442.68,459.86 L443.62,460.33 L444.57,460.79 L445.52,461.24 L446.47,461.69 L447.42,462.13 L448.36,462.56 L449.31,462.99 L450.26,463.41 L451.21,463.82 L452.16,464.22 L453.1,464.62 L454.05,465 L455,465.37 L455.95,465.74 L456.9,466.11 L457.84,466.48 L458.79,466.84 L459.74,467.2 L460.69,467.56 L461.64,467.91 L462.58,468.26 L463.53,468.6 L464.48,468.93 L465.43,469.26 L466.38,469.57 L467.32,469.88 L468.27,470.17 L469.22,470.46 L470.17,470.73 L471.12,470.99 L472.06,471.23 L473.01,471.46 L473.96,471.68 L474.91,471.88 L475.86,472.08 L476.8,472.28 L477.75,472.47 L478.7,472.66 L479.65,472.84 L480.6,473.02 L481.54,473.2 L482.49,473.36 L483.44,473.52 L484.39,473.68 L485.34,473.83 L486.28,473.97 L487.23,474.1 L488.18,474.23 L489.13,474.35 L490.08,474.46 L491.02,474.56 L491.97,474.65 L492.92,474.74 L493.87,474.82 L494.82,474.9 L495.76,474.97 L496.71,475.05 L497.66,475.12 L498.61,475.19 L499.56,475.26 L500.5,475.32 L501.45,475.38 L502.4,475.44 L503.35,475.5 L504.3,475.55 L505.24,475.6 L506.19,475.64 L507.14,475.68 L508.09,475.72 L509.04,475.75 L509.98,475.78 L510.93,475.8 L511.88,475.82 L512.83,475.84 L513.78,475.85 L514.72,475.86 L515.67,475.88 L516.62,475.89 L517.57,475.9 L518.52,475.92 L519.46,475.93 L520.41,475.94 L521.36,475.95 L522.31,475.96 L523.26,475.97 L524.2,475.97 L525.15,475.98 L526.1,475.99 L527.05,475.99 L528,475.99 L528.94,476 L529.89,476 L530.84,476 L531.79,476 L532.74,476 L533.68,476 L534.63,476 L535.58,476 L536.53,476 L537.48,476 L538.42,476 L539.37,476 L540.32,476 L541.27,476 L542.22,476 L543.16,476 L544.11,476 L545.06,476 L546.01,476 L546.96,476 L547.9,476 L548.85,476 L549.8,476 L550.75,476 L551.7,476 L552.64,476 L553.59,476 L554.54,476 L555.49,476 L556.44,476 L557.38,476 L558.33,476 L559.28,476 L560.23,476 L561.18,476 L562.12,476 L563.07,476 L564.02,476 L564.97,476 L565.92,476 L566.86,476 L567.81,476 L568.76,476 L569.71,476 L570.66,476 L571.6,476 L572.55,476 L573.5,476 L574.45,476 L575.4,476 L576.34,476 L577.29,476 L578.24,476 L579.19,476 L580.14,476 L581.08,476 L582.03,476 L582.98,476 L583.93,476 L584.88,476 L585.82,476 L586.77,476 L587.72,476 L588.67,476 L589.62,476 L590.56,476 L591.51,476 L592.46,476 L593.41,476 L594.36,476 L595.3,476 L596.25,476 L597.2,476 L598.15,476 L599.1,476 L600.04,476 L600.99,476 L601.94,476 L602.89,476 L603.84,476 L604.78,476 L605.73,476 L606.68,476 L607.63,476 L608.58,476 L609.52,476 L610.47,476 L611.42,476 L612.37,476 L613.32,476 L614.26,476 L615.21,476 L616.16,476 L617.11,476 L618.06,476 L619,476 L619.95,476 L620.9,476 L621.85,476 L622.8,476 L623.74,476 L624.69,476 L625.64,476" fill="none" stroke="#3d46b4" stroke-width="3.9" stroke-linejoin="round"/>
<g><rect x="94.1" y="263.9" width="531.7" height="223.75" fill="none" stroke="#433e3d" stroke-width="1.9"/><line x1="132.68" y1="487.65" x2="132.68" y2="484.25" stroke="#433e3d" stroke-width="1.5"/><line x1="132.68" y1="263.9" x2="132.68" y2="267.3" stroke="#433e3d" stroke-width="1.5"/><line x1="208.52" y1="487.65" x2="208.52" y2="484.25" stroke="#433e3d" stroke-width="1.5"/><line x1="208.52" y1="263.9" x2="208.52" y2="267.3" stroke="#433e3d" stroke-width="1.5"/><line x1="284.36" y1="487.65" x2="284.36" y2="484.25" stroke="#433e3d" stroke-width="1.5"/><line x1="284.36" y1="263.9" x2="284.36" y2="267.3" stroke="#433e3d" stroke-width="1.5"/><line x1="360.2" y1="487.65" x2="360.2" y2="484.25" stroke="#433e3d" stroke-width="1.5"/><line x1="360.2" y1="263.9" x2="360.2" y2="267.3" stroke="#433e3d" stroke-width="1.5"/><line x1="436.04" y1="487.65" x2="436.04" y2="484.25" stroke="#433e3d" stroke-width="1.5"/><line x1="436.04" y1="263.9" x2="436.04" y2="267.3" stroke="#433e3d" stroke-width="1.5"/><line x1="511.88" y1="487.65" x2="511.88" y2="484.25" stroke="#433e3d" stroke-width="1.5"/><line x1="511.88" y1="263.9" x2="511.88" y2="267.3" stroke="#433e3d" stroke-width="1.5"/><line x1="587.72" y1="487.65" x2="587.72" y2="484.25" stroke="#433e3d" stroke-width="1.5"/><line x1="587.72" y1="263.9" x2="587.72" y2="267.3" stroke="#433e3d" stroke-width="1.5"/><line x1="94.1" y1="476" x2="100.1" y2="476" stroke="#433e3d" stroke-width="1.7"/><line x1="625.8" y1="476" x2="619.8" y2="476" stroke="#433e3d" stroke-width="1.7"/><line x1="94.1" y1="439.98" x2="100.1" y2="439.98" stroke="#433e3d" stroke-width="1.7"/><line x1="625.8" y1="439.98" x2="619.8" y2="439.98" stroke="#433e3d" stroke-width="1.7"/><line x1="94.1" y1="403.96" x2="100.1" y2="403.96" stroke="#433e3d" stroke-width="1.7"/><line x1="625.8" y1="403.96" x2="619.8" y2="403.96" stroke="#433e3d" stroke-width="1.7"/><line x1="94.1" y1="367.94" x2="100.1" y2="367.94" stroke="#433e3d" stroke-width="1.7"/><line x1="625.8" y1="367.94" x2="619.8" y2="367.94" stroke="#433e3d" stroke-width="1.7"/><line x1="94.1" y1="331.92" x2="100.1" y2="331.92" stroke="#433e3d" stroke-width="1.7"/><line x1="625.8" y1="331.92" x2="619.8" y2="331.92" stroke="#433e3d" stroke-width="1.7"/><line x1="94.1" y1="295.9" x2="100.1" y2="295.9" stroke="#433e3d" stroke-width="1.7"/><line x1="625.8" y1="295.9" x2="619.8" y2="295.9" stroke="#433e3d" stroke-width="1.7"/></g>
<text text-anchor="middle" style="font-family:'DejaVu Sans','Liberation Sans',sans-serif;font-size:12px;fill:#000;" transform="translate(42.5 217.3)">0</text>
<text text-anchor="middle" style="font-family:'DejaVu Sans','Liberation Sans',sans-serif;font-size:12px;fill:#000;" transform="translate(113.0 217.3)">5</text>
<text text-anchor="middle" style="font-family:'DejaVu Sans','Liberation Sans',sans-serif;font-size:12px;fill:#000;" transform="translate(183.5 217.3)">10</text>
<text text-anchor="middle" style="font-family:'DejaVu Sans','Liberation Sans',sans-serif;font-size:12px;fill:#000;" transform="translate(254.0 217.3)">15</text>
<text text-anchor="middle" style="font-family:'DejaVu Sans','Liberation Sans',sans-serif;font-size:12px;fill:#000;" transform="translate(324.5 217.3)">20</text>
<text text-anchor="end" style="font-family:'DejaVu Sans','Liberation Sans',sans-serif;font-size:12px;fill:#000;" transform="translate(35.8 207.9)">0</text>
<text text-anchor="end" style="font-family:'DejaVu Sans','Liberation Sans',sans-serif;font-size:12px;fill:#000;" transform="translate(35.8 168.3)">0.2</text>
<text text-anchor="end" style="font-family:'DejaVu Sans','Liberation Sans',sans-serif;font-size:12px;fill:#000;" transform="translate(35.8 128.7)">0.4</text>
<text text-anchor="end" style="font-family:'DejaVu Sans','Liberation Sans',sans-serif;font-size:12px;fill:#000;" transform="translate(35.8 89.1)">0.6</text>
<text text-anchor="end" style="font-family:'DejaVu Sans','Liberation Sans',sans-serif;font-size:12px;fill:#000;" transform="translate(35.8 49.5)">0.8</text>
<text text-anchor="end" style="font-family:'DejaVu Sans','Liberation Sans',sans-serif;font-size:12px;fill:#000;" transform="translate(35.8 9.9)">1</text>
<text text-anchor="middle" style="font-family:'DejaVu Sans','Liberation Sans',sans-serif;font-size:12.0px;fill:#000;font-weight:bold;stroke:#fff;stroke-width:0.2px;" transform="translate(183.4 232.1) scale(0.93 1)">Time shift [h]</text>
<text text-anchor="middle" style="font-family:'DejaVu Sans','Liberation Sans',sans-serif;font-size:12.0px;fill:#000;font-weight:bold;stroke:#fff;stroke-width:0.2px;" transform="translate(9.5 104.8) rotate(-90) scale(0.93 1)">Absolute change in power [pu]</text>
<text text-anchor="middle" style="font-family:'DejaVu Sans','Liberation Sans',sans-serif;font-size:12px;fill:#000;" transform="translate(396.1 217.5)">0</text>
<text text-anchor="middle" style="font-family:'DejaVu Sans','Liberation Sans',sans-serif;font-size:12px;fill:#000;" transform="translate(466.5 217.5)">5</text>
<text text-anchor="middle" style="font-family:'DejaVu Sans','Liberation Sans',sans-serif;font-size:12px;fill:#000;" transform="translate(537.0 217.5)">10</text>
<text text-anchor="middle" style="font-family:'DejaVu Sans','Liberation Sans',sans-serif;font-size:12px;fill:#000;" transform="translate(607.5 217.5)">15</text>
<text text-anchor="middle" style="font-family:'DejaVu Sans','Liberation Sans',sans-serif;font-size:12px;fill:#000;" transform="translate(678.0 217.5)">20</text>
<text text-anchor="end" style="font-family:'DejaVu Sans','Liberation Sans',sans-serif;font-size:12px;fill:#000;" transform="translate(389.6 208.2)">0</text>
<text text-anchor="end" style="font-family:'DejaVu Sans','Liberation Sans',sans-serif;font-size:12px;fill:#000;" transform="translate(389.6 168.4)">0.2</text>
<text text-anchor="end" style="font-family:'DejaVu Sans','Liberation Sans',sans-serif;font-size:12px;fill:#000;" transform="translate(389.6 128.7)">0.4</text>
<text text-anchor="end" style="font-family:'DejaVu Sans','Liberation Sans',sans-serif;font-size:12px;fill:#000;" transform="translate(389.6 88.9)">0.6</text>
<text text-anchor="end" style="font-family:'DejaVu Sans','Liberation Sans',sans-serif;font-size:12px;fill:#000;" transform="translate(389.6 49.2)">0.8</text>
<text text-anchor="end" style="font-family:'DejaVu Sans','Liberation Sans',sans-serif;font-size:12px;fill:#000;" transform="translate(389.6 9.4)">1</text>
<text text-anchor="middle" style="font-family:'DejaVu Sans','Liberation Sans',sans-serif;font-size:12.0px;fill:#000;font-weight:bold;stroke:#fff;stroke-width:0.2px;" transform="translate(537.5 232.1) scale(0.93 1)">Time shift [h]</text>
<text text-anchor="start" style="font-family:'DejaVu Sans','Liberation Sans',sans-serif;font-size:12.0px;fill:#000;font-weight:bold;stroke:#fff;stroke-width:0.2px;" transform="translate(361.9 201.7) rotate(-90) scale(0.9412 1)">Absolute change <tspan dx="1.5">in</tspan> power <tspan dx="1.2">[pu]</tspan></text>
<text text-anchor="middle" style="font-family:'DejaVu Sans','Liberation Sans',sans-serif;font-size:10px;fill:#4a4a4a;font-weight:bold;stroke:#fff;stroke-width:0.15px;" transform="translate(290 105.2) rotate(-8) scale(0.92 1)">Utsira Nord</text>
<text text-anchor="middle" style="font-family:'DejaVu Sans','Liberation Sans',sans-serif;font-size:10px;fill:#1b4f8c;font-weight:bold;stroke:#fff;stroke-width:0.15px;" transform="translate(274.2 128.5) rotate(-8) scale(0.9384 1)">Sørlige Nordsjø I</text>
<text text-anchor="middle" style="font-family:'DejaVu Sans','Liberation Sans',sans-serif;font-size:10px;fill:#2a7a2a;font-weight:bold;stroke:#fff;stroke-width:0.15px;" transform="translate(281 152.2) rotate(-6) scale(0.92 1)">South of Stadt</text>
<text text-anchor="middle" style="font-family:'DejaVu Sans','Liberation Sans',sans-serif;font-size:10px;fill:#7a1fa0;font-weight:bold;stroke:#fff;stroke-width:0.15px;" transform="translate(281.2 166.8) rotate(-5) scale(0.92 1)">North of Stadt</text>
<text text-anchor="middle" style="font-family:'DejaVu Sans','Liberation Sans',sans-serif;font-size:10px;fill:#c0261e;font-weight:bold;stroke:#fff;stroke-width:0.15px;" transform="translate(282.3 182.3) rotate(-4) scale(0.9522 1)">All wind farms</text>
<text text-anchor="middle" style="font-family:'DejaVu Sans','Liberation Sans',sans-serif;font-size:10px;fill:#1b4f8c;font-weight:bold;stroke:#fff;stroke-width:0.15px;" transform="translate(437.5 19.7) rotate(-26) scale(0.92 1)">Sørlige</text>
<text text-anchor="middle" style="font-family:'DejaVu Sans','Liberation Sans',sans-serif;font-size:10px;fill:#1b4f8c;font-weight:bold;stroke:#fff;stroke-width:0.15px;" transform="translate(441 26.6) rotate(-25) scale(0.9844 1)">Nordsjø I</text>
<text text-anchor="middle" style="font-family:'DejaVu Sans','Liberation Sans',sans-serif;font-size:10px;fill:#3c3c3c;font-weight:bold;stroke:#fff;stroke-width:0.15px;" transform="translate(415.6 76.6) rotate(-69) scale(0.8924 1)">Utsira Nord</text>
<text text-anchor="middle" style="font-family:'DejaVu Sans','Liberation Sans',sans-serif;font-size:10px;fill:#8a6a1a;font-weight:bold;stroke:#fff;stroke-width:0.15px;" transform="translate(504 34) rotate(-13) scale(0.92 1)">Nordmela</text>
<text text-anchor="middle" style="font-family:'DejaVu Sans','Liberation Sans',sans-serif;font-size:10px;fill:#2a7a2a;font-weight:bold;stroke:#fff;stroke-width:0.15px;" transform="translate(515 59) rotate(-24) scale(0.92 1)">South of Stadt</text>
<text text-anchor="middle" style="font-family:'DejaVu Sans','Liberation Sans',sans-serif;font-size:10px;fill:#7a1fa0;font-weight:bold;stroke:#fff;stroke-width:0.15px;" transform="translate(615.9 54.1) rotate(-13) scale(0.92 1)">North of Stadt</text>
<text text-anchor="middle" style="font-family:'DejaVu Sans','Liberation Sans',sans-serif;font-size:10px;fill:#c0261e;font-weight:bold;stroke:#fff;stroke-width:0.15px;" transform="translate(612 114.5) rotate(-14.5) scale(0.9568 1)">All wind farms</text>
<text text-anchor="middle" style="font-family:'DejaVu Sans','Liberation Sans',sans-serif;font-size:12px;fill:#4a4444;" transform="translate(132.3 501.8)">−0.6</text>
<text text-anchor="middle" style="font-family:'DejaVu Sans','Liberation Sans',sans-serif;font-size:12px;fill:#4a4444;" transform="translate(208.1 501.8)">−0.4</text>
<text text-anchor="middle" style="font-family:'DejaVu Sans','Liberation Sans',sans-serif;font-size:12px;fill:#4a4444;" transform="translate(284.0 501.8)">−0.2</text>
<text text-anchor="middle" style="font-family:'DejaVu Sans','Liberation Sans',sans-serif;font-size:12px;fill:#4a4444;" transform="translate(359.8 501.8)">0</text>
<text text-anchor="middle" style="font-family:'DejaVu Sans','Liberation Sans',sans-serif;font-size:12px;fill:#4a4444;" transform="translate(435.6 501.8)">0.2</text>
<text text-anchor="middle" style="font-family:'DejaVu Sans','Liberation Sans',sans-serif;font-size:12px;fill:#4a4444;" transform="translate(511.5 501.8)">0.4</text>
<text text-anchor="middle" style="font-family:'DejaVu Sans','Liberation Sans',sans-serif;font-size:12px;fill:#4a4444;" transform="translate(587.3 501.8)">0.6</text>
<text text-anchor="end" style="font-family:'DejaVu Sans','Liberation Sans',sans-serif;font-size:12px;fill:#4a4444;" transform="translate(88.5 482.5)">0</text>
<text text-anchor="end" style="font-family:'DejaVu Sans','Liberation Sans',sans-serif;font-size:12px;fill:#4a4444;" transform="translate(88.5 446.5)">2</text>
<text text-anchor="end" style="font-family:'DejaVu Sans','Liberation Sans',sans-serif;font-size:12px;fill:#4a4444;" transform="translate(88.5 410.5)">4</text>
<text text-anchor="end" style="font-family:'DejaVu Sans','Liberation Sans',sans-serif;font-size:12px;fill:#4a4444;" transform="translate(88.5 374.4)">6</text>
<text text-anchor="end" style="font-family:'DejaVu Sans','Liberation Sans',sans-serif;font-size:12px;fill:#4a4444;" transform="translate(88.5 338.4)">8</text>
<text text-anchor="end" style="font-family:'DejaVu Sans','Liberation Sans',sans-serif;font-size:12px;fill:#4a4444;" transform="translate(88.5 302.4)">10</text>
<text text-anchor="middle" style="font-family:'DejaVu Sans','Liberation Sans',sans-serif;font-size:12.0px;fill:#403c3c;font-weight:bold;stroke:#fff;stroke-width:0.15px;" transform="translate(360 518) scale(0.93 1)">Change in power output [pu]</text>
<text text-anchor="middle" style="font-family:'DejaVu Sans','Liberation Sans',sans-serif;font-size:12.0px;fill:#403c3c;font-weight:bold;stroke:#fff;stroke-width:0.15px;" transform="translate(67.8 373.3) rotate(-90) scale(0.935 1)">Probability density function [–]</text>
<text text-anchor="start" style="font-family:'DejaVu Sans','Liberation Sans',sans-serif;font-size:11px;fill:#c0261e;font-weight:bold;stroke:#fff;stroke-width:0.15px;" transform="translate(369.3 289.8) scale(0.915 1)">Hourly</text>
<line x1="369.3" y1="291.7" x2="406.78" y2="291.7" stroke="#c0261e" stroke-width="0.9" opacity="0.65"/>
<text text-anchor="start" style="font-family:'DejaVu Sans','Liberation Sans',sans-serif;font-size:11px;fill:#7a7a1e;font-weight:bold;stroke:#fff;stroke-width:0.15px;" transform="translate(384 413) scale(0.915 1)">Bihourly</text>
<line x1="384" y1="414.9" x2="431.34" y2="414.9" stroke="#7a7a1e" stroke-width="0.9" opacity="0.65"/>
<text text-anchor="start" style="font-family:'DejaVu Sans','Liberation Sans',sans-serif;font-size:11px;fill:#2e3a8c;font-weight:bold;stroke:#fff;stroke-width:0.15px;" transform="translate(410.7 434.3) scale(0.915 1)">Monthly</text>
<line x1="410.7" y1="436.2" x2="456.79" y2="436.2" stroke="#2e3a8c" stroke-width="0.9" opacity="0.65"/>
<text text-anchor="start" style="font-family:'DejaVu Sans','Liberation Sans',sans-serif;font-size:11px;fill:#14702a;font-weight:bold;stroke:#fff;stroke-width:0.15px;" transform="translate(454 452.5) scale(0.883 1)">Weekly</text>
<line x1="454" y1="454.4" x2="493.66" y2="454.4" stroke="#14702a" stroke-width="0.9" opacity="0.65"/>
<text text-anchor="start" style="font-family:'DejaVu Sans','Liberation Sans',sans-serif;font-size:11px;fill:#000;font-weight:bold;stroke:#fff;stroke-width:0.15px;" transform="translate(529.2 462.7) scale(0.915 1)">Daily</text>
<line x1="529.2" y1="464.6" x2="557.81" y2="464.6" stroke="#000" stroke-width="0.9" opacity="0.65"/>
<text text-anchor="start" style="font-family:'Liberation Sans','DejaVu Sans',sans-serif;font-size:12.5px;fill:#000;font-weight:bold;" transform="translate(112.2 253.2)">(a)</text>
<text text-anchor="start" style="font-family:'Liberation Serif','DejaVu Serif',serif;font-size:12.5px;fill:#000;" transform="translate(131.5 253.2)">90.00 % quantile.</text>
<text text-anchor="start" style="font-family:'Liberation Sans','DejaVu Sans',sans-serif;font-size:12.5px;fill:#000;font-weight:bold;" transform="translate(466.0 253.2)">(b)</text>
<text text-anchor="start" style="font-family:'Liberation Serif','DejaVu Serif',serif;font-size:12.5px;fill:#000;" transform="translate(485.8 253.2) scale(1.008 1)">99.99 % quantile.</text>
<text text-anchor="start" style="font-family:'Liberation Sans','DejaVu Sans',sans-serif;font-size:12.5px;fill:#000;font-weight:bold;" transform="translate(42.3 540)">(c)</text>
<text text-anchor="start" style="font-family:'Liberation Serif','DejaVu Serif',serif;font-size:12.5px;fill:#000;" transform="translate(61.9 540) scale(1.0162 1)">Probability density function (PDF), fitted by a Gaussian kernel density estimation, for power output changes at</text>
<text text-anchor="start" style="font-family:'Liberation Serif','DejaVu Serif',serif;font-size:12.5px;fill:#000;" transform="translate(42.9 554.8) scale(1.0145 1)">Sørlige Nordjø II with different resampling of time resolutions.</text>
</svg>
</body></html>
